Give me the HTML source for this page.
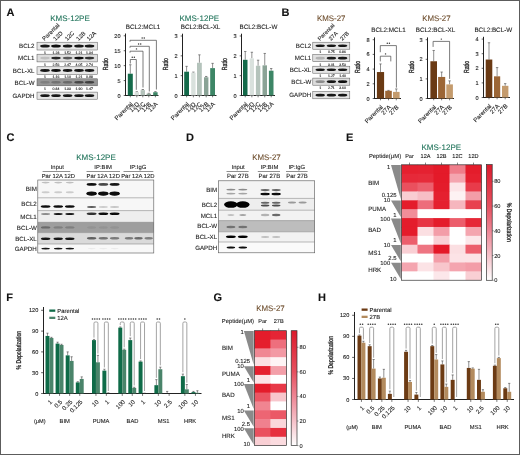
<!DOCTYPE html>
<html><head><meta charset="utf-8"><style>
html,body{margin:0;padding:0;background:#fff;}
svg{display:block;filter:blur(0.3px);font-family:"Liberation Sans", sans-serif;}
text{paint-order:stroke;text-rendering:geometricPrecision;}
</style></head><body>
<svg width="520" height="455" viewBox="0 0 520 455">
<defs>
<filter id="bl" x="-50%" y="-100%" width="200%" height="300%"><feGaussianBlur stdDeviation="0.55"/></filter>
<linearGradient id="cb" x1="0" y1="0" x2="0" y2="1">
<stop offset="0" stop-color="#dc1a2c"/><stop offset="0.36" stop-color="#e6505f"/><stop offset="0.57" stop-color="#ee8594"/><stop offset="0.79" stop-color="#f6c2ca"/><stop offset="1" stop-color="#ffffff"/>
</linearGradient>
</defs>
<rect x="0" y="0" width="520" height="455" fill="#fff"/>
<rect x="0.50" y="0.50" width="519.00" height="454.00" fill="none" stroke="#5c5c5c" stroke-width="1.0"/>
<text x="6.5" y="15.8" font-size="11.0" text-anchor="start" fill="#111" stroke="#111" stroke-width="0.1" font-weight="bold">A</text>
<text x="281.5" y="16.1" font-size="11.0" text-anchor="start" fill="#111" stroke="#111" stroke-width="0.1" font-weight="bold">B</text>
<text x="6.4" y="141.0" font-size="11.0" text-anchor="start" fill="#111" stroke="#111" stroke-width="0.1" font-weight="bold">C</text>
<text x="186.1" y="141.0" font-size="11.0" text-anchor="start" fill="#111" stroke="#111" stroke-width="0.1" font-weight="bold">D</text>
<text x="346.1" y="141.0" font-size="11.0" text-anchor="start" fill="#111" stroke="#111" stroke-width="0.1" font-weight="bold">E</text>
<text x="6.2" y="301.2" font-size="11.0" text-anchor="start" fill="#111" stroke="#111" stroke-width="0.1" font-weight="bold">F</text>
<text x="213.4" y="301.2" font-size="11.0" text-anchor="start" fill="#111" stroke="#111" stroke-width="0.1" font-weight="bold">G</text>
<text x="318.1" y="301.2" font-size="11.0" text-anchor="start" fill="#111" stroke="#111" stroke-width="0.1" font-weight="bold">H</text>
<text x="70" y="20.6" font-size="8.0" text-anchor="middle" fill="#20735a" stroke="#20735a" stroke-width="0.1">KMS-12PE</text>
<text x="44.6" y="41.0" font-size="5.8" text-anchor="start" fill="#222" stroke="#222" stroke-width="0.1" transform="rotate(-45 44.6 41.0)">Parental</text>
<text x="55.6" y="41.0" font-size="5.8" text-anchor="start" fill="#222" stroke="#222" stroke-width="0.1" transform="rotate(-45 55.6 41.0)">12D</text>
<text x="67.19999999999999" y="41.0" font-size="5.8" text-anchor="start" fill="#222" stroke="#222" stroke-width="0.1" transform="rotate(-45 67.19999999999999 41.0)">12C</text>
<text x="78.6" y="41.0" font-size="5.8" text-anchor="start" fill="#222" stroke="#222" stroke-width="0.1" transform="rotate(-45 78.6 41.0)">12B</text>
<text x="89.1" y="41.0" font-size="5.8" text-anchor="start" fill="#222" stroke="#222" stroke-width="0.1" transform="rotate(-45 89.1 41.0)">12A</text>
<rect x="37.00" y="42.20" width="60.50" height="7.80" fill="#e6e6e6" stroke="#555" stroke-width="0.5"/>
<ellipse cx="45.00" cy="46.10" rx="4.80" ry="1.50" fill="rgb(20,20,20)" filter="url(#bl)"/>
<ellipse cx="56.00" cy="46.10" rx="4.80" ry="1.50" fill="rgb(12,12,12)" filter="url(#bl)"/>
<ellipse cx="67.60" cy="46.10" rx="4.80" ry="1.50" fill="rgb(20,20,20)" filter="url(#bl)"/>
<ellipse cx="79.00" cy="46.10" rx="4.80" ry="1.50" fill="rgb(25,25,25)" filter="url(#bl)"/>
<ellipse cx="89.50" cy="46.10" rx="4.80" ry="1.50" fill="rgb(20,20,20)" filter="url(#bl)"/>
<text x="34.5" y="48.300000000000004" font-size="6.2" text-anchor="end" fill="#222" stroke="#222" stroke-width="0.1">BCL2</text>
<text x="45" y="53.9" font-size="3.5" text-anchor="middle" fill="#111" stroke="#111" stroke-width="0.1">1</text>
<text x="56" y="53.9" font-size="3.5" text-anchor="middle" fill="#111" stroke="#111" stroke-width="0.1">1.28</text>
<text x="67.6" y="53.9" font-size="3.5" text-anchor="middle" fill="#111" stroke="#111" stroke-width="0.1">1.52</text>
<text x="79" y="53.9" font-size="3.5" text-anchor="middle" fill="#111" stroke="#111" stroke-width="0.1">1.21</text>
<text x="89.5" y="53.9" font-size="3.5" text-anchor="middle" fill="#111" stroke="#111" stroke-width="0.1">1.34</text>
<rect x="37.00" y="54.20" width="60.50" height="7.70" fill="#dedede" stroke="#555" stroke-width="0.5"/>
<ellipse cx="45.00" cy="58.05" rx="4.80" ry="1.40" fill="rgb(191,191,191)" filter="url(#bl)"/>
<ellipse cx="56.00" cy="58.05" rx="4.80" ry="1.40" fill="rgb(38,38,38)" filter="url(#bl)"/>
<ellipse cx="67.60" cy="58.05" rx="4.80" ry="1.40" fill="rgb(89,89,89)" filter="url(#bl)"/>
<ellipse cx="79.00" cy="58.05" rx="4.80" ry="1.40" fill="rgb(12,12,12)" filter="url(#bl)"/>
<ellipse cx="89.50" cy="58.05" rx="4.80" ry="1.40" fill="rgb(50,50,50)" filter="url(#bl)"/>
<text x="34.5" y="60.25" font-size="6.2" text-anchor="end" fill="#222" stroke="#222" stroke-width="0.1">MCL1</text>
<text x="45" y="65.8" font-size="3.5" text-anchor="middle" fill="#111" stroke="#111" stroke-width="0.1">1</text>
<text x="56" y="65.8" font-size="3.5" text-anchor="middle" fill="#111" stroke="#111" stroke-width="0.1">2.56</text>
<text x="67.6" y="65.8" font-size="3.5" text-anchor="middle" fill="#111" stroke="#111" stroke-width="0.1">2.47</text>
<text x="79" y="65.8" font-size="3.5" text-anchor="middle" fill="#111" stroke="#111" stroke-width="0.1">4.05</text>
<text x="89.5" y="65.8" font-size="3.5" text-anchor="middle" fill="#111" stroke="#111" stroke-width="0.1">2.74</text>
<rect x="37.00" y="66.80" width="60.50" height="7.50" fill="#e6e6e6" stroke="#555" stroke-width="0.5"/>
<ellipse cx="45.00" cy="70.55" rx="4.80" ry="1.45" fill="rgb(20,20,20)" filter="url(#bl)"/>
<ellipse cx="56.00" cy="70.55" rx="4.80" ry="1.45" fill="rgb(12,12,12)" filter="url(#bl)"/>
<ellipse cx="67.60" cy="70.55" rx="4.80" ry="1.45" fill="rgb(25,25,25)" filter="url(#bl)"/>
<ellipse cx="79.00" cy="70.55" rx="4.80" ry="1.45" fill="rgb(20,20,20)" filter="url(#bl)"/>
<ellipse cx="89.50" cy="70.55" rx="4.80" ry="1.45" fill="rgb(25,25,25)" filter="url(#bl)"/>
<text x="34.5" y="72.75" font-size="6.2" text-anchor="end" fill="#222" stroke="#222" stroke-width="0.1">BCL-XL</text>
<text x="45" y="78.2" font-size="3.5" text-anchor="middle" fill="#111" stroke="#111" stroke-width="0.1">1</text>
<text x="56" y="78.2" font-size="3.5" text-anchor="middle" fill="#111" stroke="#111" stroke-width="0.1">1.16</text>
<text x="67.6" y="78.2" font-size="3.5" text-anchor="middle" fill="#111" stroke="#111" stroke-width="0.1">1.10</text>
<text x="79" y="78.2" font-size="3.5" text-anchor="middle" fill="#111" stroke="#111" stroke-width="0.1">1.21</text>
<text x="89.5" y="78.2" font-size="3.5" text-anchor="middle" fill="#111" stroke="#111" stroke-width="0.1">0.98</text>
<rect x="37.00" y="78.80" width="60.50" height="7.00" fill="#969696" stroke="#555" stroke-width="0.5"/>
<ellipse cx="45.00" cy="82.30" rx="4.80" ry="1.20" fill="rgb(127,127,127)" filter="url(#bl)"/>
<ellipse cx="56.00" cy="82.30" rx="4.80" ry="1.20" fill="rgb(114,114,114)" filter="url(#bl)"/>
<ellipse cx="67.60" cy="82.30" rx="4.80" ry="1.20" fill="rgb(107,107,107)" filter="url(#bl)"/>
<ellipse cx="79.00" cy="82.30" rx="4.80" ry="1.20" fill="rgb(71,71,71)" filter="url(#bl)"/>
<ellipse cx="89.50" cy="82.30" rx="4.80" ry="1.20" fill="rgb(63,63,63)" filter="url(#bl)"/>
<text x="34.5" y="84.5" font-size="6.2" text-anchor="end" fill="#222" stroke="#222" stroke-width="0.1">BCL-W</text>
<text x="45" y="89.7" font-size="3.5" text-anchor="middle" fill="#111" stroke="#111" stroke-width="0.1">1</text>
<text x="56" y="89.7" font-size="3.5" text-anchor="middle" fill="#111" stroke="#111" stroke-width="0.1">0.84</text>
<text x="67.6" y="89.7" font-size="3.5" text-anchor="middle" fill="#111" stroke="#111" stroke-width="0.1">1.33</text>
<text x="79" y="89.7" font-size="3.5" text-anchor="middle" fill="#111" stroke="#111" stroke-width="0.1">1.90</text>
<text x="89.5" y="89.7" font-size="3.5" text-anchor="middle" fill="#111" stroke="#111" stroke-width="0.1">1.47</text>
<rect x="37.00" y="92.10" width="60.50" height="7.10" fill="#e6e6e6" stroke="#555" stroke-width="0.5"/>
<ellipse cx="45.00" cy="95.65" rx="4.80" ry="1.40" fill="rgb(20,20,20)" filter="url(#bl)"/>
<ellipse cx="56.00" cy="95.65" rx="4.80" ry="1.40" fill="rgb(20,20,20)" filter="url(#bl)"/>
<ellipse cx="67.60" cy="95.65" rx="4.80" ry="1.40" fill="rgb(20,20,20)" filter="url(#bl)"/>
<ellipse cx="79.00" cy="95.65" rx="4.80" ry="1.40" fill="rgb(20,20,20)" filter="url(#bl)"/>
<ellipse cx="89.50" cy="95.65" rx="4.80" ry="1.40" fill="rgb(20,20,20)" filter="url(#bl)"/>
<text x="34.5" y="97.85000000000001" font-size="6.2" text-anchor="end" fill="#222" stroke="#222" stroke-width="0.1">GAPDH</text>
<line x1="125.50" y1="96.00" x2="125.50" y2="33.50" stroke="#222" stroke-width="1.0"/>
<line x1="125.00" y1="95.50" x2="158.50" y2="95.50" stroke="#222" stroke-width="1.0"/>
<line x1="123.70" y1="95.50" x2="125.50" y2="95.50" stroke="#222" stroke-width="0.7"/>
<text x="120.5" y="97.5" font-size="5.6" text-anchor="end" fill="#222" stroke="#222" stroke-width="0.1">0</text>
<line x1="123.70" y1="80.58" x2="125.50" y2="80.58" stroke="#222" stroke-width="0.7"/>
<text x="120.5" y="82.575" font-size="5.6" text-anchor="end" fill="#222" stroke="#222" stroke-width="0.1">5</text>
<line x1="123.70" y1="65.65" x2="125.50" y2="65.65" stroke="#222" stroke-width="0.7"/>
<text x="120.5" y="67.65" font-size="5.6" text-anchor="end" fill="#222" stroke="#222" stroke-width="0.1">10</text>
<line x1="123.70" y1="50.72" x2="125.50" y2="50.72" stroke="#222" stroke-width="0.7"/>
<text x="120.5" y="52.724999999999994" font-size="5.6" text-anchor="end" fill="#222" stroke="#222" stroke-width="0.1">15</text>
<line x1="123.70" y1="35.80" x2="125.50" y2="35.80" stroke="#222" stroke-width="0.7"/>
<text x="120.5" y="37.8" font-size="5.6" text-anchor="end" fill="#222" stroke="#222" stroke-width="0.1">20</text>
<text x="143" y="29" font-size="6.3" text-anchor="middle" fill="#222" stroke="#222" stroke-width="0.1">BCL2:MCL1</text>
<text transform="translate(108 64.2) rotate(-90) scale(0.7 1)" font-size="7.4" text-anchor="middle" fill="#222" stroke="#222" stroke-width="0.3">Ratio</text>
<line x1="130.30" y1="73.71" x2="130.30" y2="64.75" stroke="#444" stroke-width="0.6"/>
<line x1="129.10" y1="64.75" x2="131.50" y2="64.75" stroke="#444" stroke-width="0.6"/>
<rect x="127.80" y="73.71" width="5.00" height="21.79" fill="#146a4a"/>
<line x1="136.80" y1="92.22" x2="136.80" y2="91.77" stroke="#444" stroke-width="0.6"/>
<line x1="135.60" y1="91.77" x2="138.00" y2="91.77" stroke="#444" stroke-width="0.6"/>
<rect x="134.60" y="92.22" width="4.40" height="3.28" fill="#d9e1dd"/>
<line x1="142.80" y1="90.13" x2="142.80" y2="89.53" stroke="#444" stroke-width="0.6"/>
<line x1="141.60" y1="89.53" x2="144.00" y2="89.53" stroke="#444" stroke-width="0.6"/>
<rect x="140.60" y="90.13" width="4.40" height="5.37" fill="#b4c3bb"/>
<line x1="148.80" y1="93.71" x2="148.80" y2="93.26" stroke="#444" stroke-width="0.6"/>
<line x1="147.60" y1="93.26" x2="150.00" y2="93.26" stroke="#444" stroke-width="0.6"/>
<rect x="146.60" y="93.71" width="4.40" height="1.79" fill="#8aa396"/>
<line x1="155.40" y1="92.22" x2="155.40" y2="91.62" stroke="#444" stroke-width="0.6"/>
<line x1="154.20" y1="91.62" x2="156.60" y2="91.62" stroke="#444" stroke-width="0.6"/>
<rect x="153.20" y="92.22" width="4.40" height="3.28" fill="#3d8666"/>
<line x1="130.30" y1="95.50" x2="130.30" y2="97.30" stroke="#222" stroke-width="0.6"/>
<text x="133.10000000000002" y="104.5" font-size="6.1" text-anchor="end" fill="#222" stroke="#222" stroke-width="0.1" transform="rotate(-45 133.10000000000002 104.5)">Parental</text>
<line x1="136.80" y1="95.50" x2="136.80" y2="97.30" stroke="#222" stroke-width="0.6"/>
<text x="139.60000000000002" y="104.5" font-size="6.1" text-anchor="end" fill="#222" stroke="#222" stroke-width="0.1" transform="rotate(-45 139.60000000000002 104.5)">12D</text>
<line x1="142.80" y1="95.50" x2="142.80" y2="97.30" stroke="#222" stroke-width="0.6"/>
<text x="145.60000000000002" y="104.5" font-size="6.1" text-anchor="end" fill="#222" stroke="#222" stroke-width="0.1" transform="rotate(-45 145.60000000000002 104.5)">12C</text>
<line x1="148.80" y1="95.50" x2="148.80" y2="97.30" stroke="#222" stroke-width="0.6"/>
<text x="151.60000000000002" y="104.5" font-size="6.1" text-anchor="end" fill="#222" stroke="#222" stroke-width="0.1" transform="rotate(-45 151.60000000000002 104.5)">12B</text>
<line x1="155.40" y1="95.50" x2="155.40" y2="97.30" stroke="#222" stroke-width="0.6"/>
<text x="158.2" y="104.5" font-size="6.1" text-anchor="end" fill="#222" stroke="#222" stroke-width="0.1" transform="rotate(-45 158.2 104.5)">12A</text>
<path d="M130.00,41.80 L130.00,40.30 L156.40,40.30 L156.40,89.50" stroke="#444" stroke-width="0.7" fill="none"/>
<circle cx="142.15" cy="38.00" r="0.72" fill="#333"/>
<circle cx="144.25" cy="38.00" r="0.72" fill="#333"/>
<path d="M130.00,47.80 L130.00,46.30 L149.30,46.30 L149.30,91.50" stroke="#444" stroke-width="0.7" fill="none"/>
<circle cx="138.60" cy="44.00" r="0.72" fill="#333"/>
<circle cx="140.70" cy="44.00" r="0.72" fill="#333"/>
<path d="M130.00,52.70 L130.00,51.20 L143.00,51.20 L143.00,87.50" stroke="#444" stroke-width="0.7" fill="none"/>
<circle cx="136.50" cy="48.90" r="0.72" fill="#333"/>
<path d="M130.30,63.50 L130.30,59.50 L136.30,59.50 L136.30,89.80" stroke="#444" stroke-width="0.7" fill="none"/>
<circle cx="132.25" cy="57.20" r="0.72" fill="#333"/>
<circle cx="134.35" cy="57.20" r="0.72" fill="#333"/>
<text x="199.3" y="20.9" font-size="8.0" text-anchor="middle" fill="#20735a" stroke="#20735a" stroke-width="0.1">KMS-12PE</text>
<line x1="182.50" y1="96.00" x2="182.50" y2="33.70" stroke="#222" stroke-width="1.0"/>
<line x1="182.00" y1="95.50" x2="216.50" y2="95.50" stroke="#222" stroke-width="1.0"/>
<line x1="180.70" y1="95.50" x2="182.50" y2="95.50" stroke="#222" stroke-width="0.7"/>
<text x="177.5" y="97.5" font-size="5.6" text-anchor="end" fill="#222" stroke="#222" stroke-width="0.1">0</text>
<line x1="180.70" y1="75.67" x2="182.50" y2="75.67" stroke="#222" stroke-width="0.7"/>
<text x="177.5" y="77.66666666666667" font-size="5.6" text-anchor="end" fill="#222" stroke="#222" stroke-width="0.1">1</text>
<line x1="180.70" y1="55.83" x2="182.50" y2="55.83" stroke="#222" stroke-width="0.7"/>
<text x="177.5" y="57.833333333333336" font-size="5.6" text-anchor="end" fill="#222" stroke="#222" stroke-width="0.1">2</text>
<line x1="180.70" y1="36.00" x2="182.50" y2="36.00" stroke="#222" stroke-width="0.7"/>
<text x="177.5" y="38.0" font-size="5.6" text-anchor="end" fill="#222" stroke="#222" stroke-width="0.1">3</text>
<text x="200.6" y="29.2" font-size="6.3" text-anchor="middle" fill="#222" stroke="#222" stroke-width="0.1">BCL2:BCL-XL</text>
<text transform="translate(168 64.2) rotate(-90) scale(0.7 1)" font-size="7.4" text-anchor="middle" fill="#222" stroke="#222" stroke-width="0.3">Ratio</text>
<line x1="186.60" y1="71.70" x2="186.60" y2="66.34" stroke="#444" stroke-width="0.6"/>
<line x1="185.40" y1="66.34" x2="187.80" y2="66.34" stroke="#444" stroke-width="0.6"/>
<rect x="184.20" y="71.70" width="4.80" height="23.80" fill="#146a4a"/>
<line x1="193.40" y1="72.69" x2="193.40" y2="72.10" stroke="#444" stroke-width="0.6"/>
<line x1="192.20" y1="72.10" x2="194.60" y2="72.10" stroke="#444" stroke-width="0.6"/>
<rect x="191.20" y="72.69" width="4.40" height="22.81" fill="#d9e1dd"/>
<line x1="199.40" y1="62.78" x2="199.40" y2="54.84" stroke="#444" stroke-width="0.6"/>
<line x1="198.20" y1="54.84" x2="200.60" y2="54.84" stroke="#444" stroke-width="0.6"/>
<rect x="197.00" y="62.78" width="4.80" height="32.72" fill="#b4c3bb"/>
<line x1="206.20" y1="77.25" x2="206.20" y2="76.46" stroke="#444" stroke-width="0.6"/>
<line x1="205.00" y1="76.46" x2="207.40" y2="76.46" stroke="#444" stroke-width="0.6"/>
<rect x="204.00" y="77.25" width="4.40" height="18.25" fill="#8aa396"/>
<line x1="212.60" y1="68.13" x2="212.60" y2="63.37" stroke="#444" stroke-width="0.6"/>
<line x1="211.40" y1="63.37" x2="213.80" y2="63.37" stroke="#444" stroke-width="0.6"/>
<rect x="210.20" y="68.13" width="4.80" height="27.37" fill="#3d8666"/>
<line x1="186.60" y1="95.50" x2="186.60" y2="97.30" stroke="#222" stroke-width="0.6"/>
<text x="189.4" y="104.5" font-size="6.1" text-anchor="end" fill="#222" stroke="#222" stroke-width="0.1" transform="rotate(-45 189.4 104.5)">Parental</text>
<line x1="193.40" y1="95.50" x2="193.40" y2="97.30" stroke="#222" stroke-width="0.6"/>
<text x="196.2" y="104.5" font-size="6.1" text-anchor="end" fill="#222" stroke="#222" stroke-width="0.1" transform="rotate(-45 196.2 104.5)">12D</text>
<line x1="199.40" y1="95.50" x2="199.40" y2="97.30" stroke="#222" stroke-width="0.6"/>
<text x="202.20000000000002" y="104.5" font-size="6.1" text-anchor="end" fill="#222" stroke="#222" stroke-width="0.1" transform="rotate(-45 202.20000000000002 104.5)">12C</text>
<line x1="206.20" y1="95.50" x2="206.20" y2="97.30" stroke="#222" stroke-width="0.6"/>
<text x="209.0" y="104.5" font-size="6.1" text-anchor="end" fill="#222" stroke="#222" stroke-width="0.1" transform="rotate(-45 209.0 104.5)">12B</text>
<line x1="212.60" y1="95.50" x2="212.60" y2="97.30" stroke="#222" stroke-width="0.6"/>
<text x="215.4" y="104.5" font-size="6.1" text-anchor="end" fill="#222" stroke="#222" stroke-width="0.1" transform="rotate(-45 215.4 104.5)">12A</text>
<line x1="241.50" y1="96.00" x2="241.50" y2="33.70" stroke="#222" stroke-width="1.0"/>
<line x1="241.00" y1="95.50" x2="275.00" y2="95.50" stroke="#222" stroke-width="1.0"/>
<line x1="239.70" y1="95.50" x2="241.50" y2="95.50" stroke="#222" stroke-width="0.7"/>
<text x="236.5" y="97.5" font-size="5.6" text-anchor="end" fill="#222" stroke="#222" stroke-width="0.1">0</text>
<line x1="239.70" y1="75.67" x2="241.50" y2="75.67" stroke="#222" stroke-width="0.7"/>
<text x="236.5" y="77.66666666666667" font-size="5.6" text-anchor="end" fill="#222" stroke="#222" stroke-width="0.1">1</text>
<line x1="239.70" y1="55.83" x2="241.50" y2="55.83" stroke="#222" stroke-width="0.7"/>
<text x="236.5" y="57.833333333333336" font-size="5.6" text-anchor="end" fill="#222" stroke="#222" stroke-width="0.1">2</text>
<line x1="239.70" y1="36.00" x2="241.50" y2="36.00" stroke="#222" stroke-width="0.7"/>
<text x="236.5" y="38.0" font-size="5.6" text-anchor="end" fill="#222" stroke="#222" stroke-width="0.1">3</text>
<text x="258.5" y="29.2" font-size="6.3" text-anchor="middle" fill="#222" stroke="#222" stroke-width="0.1">BCL2:BCL-W</text>
<text transform="translate(226.6 64.2) rotate(-90) scale(0.7 1)" font-size="7.4" text-anchor="middle" fill="#222" stroke="#222" stroke-width="0.3">Ratio</text>
<line x1="245.25" y1="59.80" x2="245.25" y2="51.47" stroke="#444" stroke-width="0.6"/>
<line x1="244.05" y1="51.47" x2="246.45" y2="51.47" stroke="#444" stroke-width="0.6"/>
<rect x="243.00" y="59.80" width="4.50" height="35.70" fill="#146a4a"/>
<line x1="251.85" y1="58.41" x2="251.85" y2="52.26" stroke="#444" stroke-width="0.6"/>
<line x1="250.65" y1="52.26" x2="253.05" y2="52.26" stroke="#444" stroke-width="0.6"/>
<rect x="249.70" y="58.41" width="4.30" height="37.09" fill="#d9e1dd"/>
<line x1="258.10" y1="65.75" x2="258.10" y2="60.20" stroke="#444" stroke-width="0.6"/>
<line x1="256.90" y1="60.20" x2="259.30" y2="60.20" stroke="#444" stroke-width="0.6"/>
<rect x="255.90" y="65.75" width="4.40" height="29.75" fill="#b4c3bb"/>
<line x1="264.75" y1="65.35" x2="264.75" y2="53.45" stroke="#444" stroke-width="0.6"/>
<line x1="263.55" y1="53.45" x2="265.95" y2="53.45" stroke="#444" stroke-width="0.6"/>
<rect x="262.50" y="65.35" width="4.50" height="30.15" fill="#8aa396"/>
<line x1="271.20" y1="70.71" x2="271.20" y2="68.53" stroke="#444" stroke-width="0.6"/>
<line x1="270.00" y1="68.53" x2="272.40" y2="68.53" stroke="#444" stroke-width="0.6"/>
<rect x="268.90" y="70.71" width="4.60" height="24.79" fill="#3d8666"/>
<line x1="245.25" y1="95.50" x2="245.25" y2="97.30" stroke="#222" stroke-width="0.6"/>
<text x="248.05" y="104.5" font-size="6.1" text-anchor="end" fill="#222" stroke="#222" stroke-width="0.1" transform="rotate(-45 248.05 104.5)">Parental</text>
<line x1="251.85" y1="95.50" x2="251.85" y2="97.30" stroke="#222" stroke-width="0.6"/>
<text x="254.65" y="104.5" font-size="6.1" text-anchor="end" fill="#222" stroke="#222" stroke-width="0.1" transform="rotate(-45 254.65 104.5)">12D</text>
<line x1="258.10" y1="95.50" x2="258.10" y2="97.30" stroke="#222" stroke-width="0.6"/>
<text x="260.90000000000003" y="104.5" font-size="6.1" text-anchor="end" fill="#222" stroke="#222" stroke-width="0.1" transform="rotate(-45 260.90000000000003 104.5)">12C</text>
<line x1="264.75" y1="95.50" x2="264.75" y2="97.30" stroke="#222" stroke-width="0.6"/>
<text x="267.55" y="104.5" font-size="6.1" text-anchor="end" fill="#222" stroke="#222" stroke-width="0.1" transform="rotate(-45 267.55 104.5)">12B</text>
<line x1="271.20" y1="95.50" x2="271.20" y2="97.30" stroke="#222" stroke-width="0.6"/>
<text x="274.0" y="104.5" font-size="6.1" text-anchor="end" fill="#222" stroke="#222" stroke-width="0.1" transform="rotate(-45 274.0 104.5)">12A</text>
<text x="331.2" y="20.5" font-size="7.9" text-anchor="middle" fill="#6e4e2e" stroke="#6e4e2e" stroke-width="0.1">KMS-27</text>
<text x="319.9" y="40.9" font-size="5.7" text-anchor="start" fill="#222" stroke="#222" stroke-width="0.1" transform="rotate(-45 319.9 40.9)">Parental</text>
<text x="331.09999999999997" y="40.9" font-size="5.7" text-anchor="start" fill="#222" stroke="#222" stroke-width="0.1" transform="rotate(-45 331.09999999999997 40.9)">27A</text>
<text x="342.3" y="40.9" font-size="5.7" text-anchor="start" fill="#222" stroke="#222" stroke-width="0.1" transform="rotate(-45 342.3 40.9)">27B</text>
<rect x="312.80" y="42.20" width="37.00" height="7.00" fill="#e4e4e4" stroke="#555" stroke-width="0.5"/>
<ellipse cx="320.20" cy="45.70" rx="4.70" ry="1.30" fill="rgb(20,20,20)" filter="url(#bl)"/>
<ellipse cx="331.40" cy="45.70" rx="4.70" ry="1.30" fill="rgb(25,25,25)" filter="url(#bl)"/>
<ellipse cx="342.60" cy="45.70" rx="4.70" ry="1.30" fill="rgb(25,25,25)" filter="url(#bl)"/>
<text x="311.3" y="47.900000000000006" font-size="6.2" text-anchor="end" fill="#222" stroke="#222" stroke-width="0.1">BCL2</text>
<text x="320.2" y="53.1" font-size="3.5" text-anchor="middle" fill="#111" stroke="#111" stroke-width="0.1">1</text>
<text x="331.4" y="53.1" font-size="3.5" text-anchor="middle" fill="#111" stroke="#111" stroke-width="0.1">0.75</text>
<text x="342.6" y="53.1" font-size="3.5" text-anchor="middle" fill="#111" stroke="#111" stroke-width="0.1">0.86</text>
<rect x="312.80" y="54.60" width="37.00" height="7.10" fill="#e0e0e0" stroke="#555" stroke-width="0.5"/>
<ellipse cx="320.20" cy="58.15" rx="4.70" ry="1.35" fill="rgb(178,178,178)" filter="url(#bl)"/>
<ellipse cx="331.40" cy="58.15" rx="4.70" ry="1.35" fill="rgb(30,30,30)" filter="url(#bl)"/>
<ellipse cx="342.60" cy="58.15" rx="4.70" ry="1.35" fill="rgb(20,20,20)" filter="url(#bl)"/>
<text x="311.3" y="60.35000000000001" font-size="6.2" text-anchor="end" fill="#222" stroke="#222" stroke-width="0.1">MCL1</text>
<text x="320.2" y="65.60000000000001" font-size="3.5" text-anchor="middle" fill="#111" stroke="#111" stroke-width="0.1">1</text>
<text x="331.4" y="65.60000000000001" font-size="3.5" text-anchor="middle" fill="#111" stroke="#111" stroke-width="0.1">3.01</text>
<text x="342.6" y="65.60000000000001" font-size="3.5" text-anchor="middle" fill="#111" stroke="#111" stroke-width="0.1">3.53</text>
<rect x="312.80" y="66.20" width="37.00" height="7.00" fill="#e4e4e4" stroke="#555" stroke-width="0.5"/>
<ellipse cx="320.20" cy="69.70" rx="4.70" ry="1.30" fill="rgb(20,20,20)" filter="url(#bl)"/>
<ellipse cx="331.40" cy="69.70" rx="4.70" ry="1.30" fill="rgb(25,25,25)" filter="url(#bl)"/>
<ellipse cx="342.60" cy="69.70" rx="4.70" ry="1.30" fill="rgb(20,20,20)" filter="url(#bl)"/>
<text x="311.3" y="71.9" font-size="6.2" text-anchor="end" fill="#222" stroke="#222" stroke-width="0.1">BCL-XL</text>
<text x="320.2" y="77.10000000000001" font-size="3.5" text-anchor="middle" fill="#111" stroke="#111" stroke-width="0.1">1</text>
<text x="331.4" y="77.10000000000001" font-size="3.5" text-anchor="middle" fill="#111" stroke="#111" stroke-width="0.1">1.27</text>
<text x="342.6" y="77.10000000000001" font-size="3.5" text-anchor="middle" fill="#111" stroke="#111" stroke-width="0.1">1.40</text>
<rect x="312.80" y="78.10" width="37.00" height="7.10" fill="#dcdcdc" stroke="#555" stroke-width="0.5"/>
<ellipse cx="320.20" cy="81.65" rx="4.70" ry="1.40" fill="rgb(140,140,140)" filter="url(#bl)"/>
<ellipse cx="331.40" cy="81.65" rx="4.70" ry="1.40" fill="rgb(25,25,25)" filter="url(#bl)"/>
<ellipse cx="342.60" cy="81.65" rx="4.70" ry="1.40" fill="rgb(12,12,12)" filter="url(#bl)"/>
<text x="311.3" y="83.85000000000001" font-size="6.2" text-anchor="end" fill="#222" stroke="#222" stroke-width="0.1">BCL-W</text>
<text x="320.2" y="89.10000000000001" font-size="3.5" text-anchor="middle" fill="#111" stroke="#111" stroke-width="0.1">1</text>
<text x="331.4" y="89.10000000000001" font-size="3.5" text-anchor="middle" fill="#111" stroke="#111" stroke-width="0.1">2.71</text>
<text x="342.6" y="89.10000000000001" font-size="3.5" text-anchor="middle" fill="#111" stroke="#111" stroke-width="0.1">3.60</text>
<rect x="312.80" y="91.50" width="37.00" height="7.30" fill="#e4e4e4" stroke="#555" stroke-width="0.5"/>
<ellipse cx="320.20" cy="95.15" rx="4.70" ry="1.30" fill="rgb(20,20,20)" filter="url(#bl)"/>
<ellipse cx="331.40" cy="95.15" rx="4.70" ry="1.30" fill="rgb(20,20,20)" filter="url(#bl)"/>
<ellipse cx="342.60" cy="95.15" rx="4.70" ry="1.30" fill="rgb(20,20,20)" filter="url(#bl)"/>
<text x="311.3" y="97.35000000000001" font-size="6.2" text-anchor="end" fill="#222" stroke="#222" stroke-width="0.1">GAPDH</text>
<line x1="374.50" y1="99.00" x2="374.50" y2="37.40" stroke="#222" stroke-width="1.0"/>
<line x1="374.00" y1="98.50" x2="401.00" y2="98.50" stroke="#222" stroke-width="1.0"/>
<line x1="372.70" y1="98.50" x2="374.50" y2="98.50" stroke="#222" stroke-width="0.7"/>
<text x="369.5" y="100.5" font-size="5.6" text-anchor="end" fill="#222" stroke="#222" stroke-width="0.1">0</text>
<line x1="372.70" y1="83.80" x2="374.50" y2="83.80" stroke="#222" stroke-width="0.7"/>
<text x="369.5" y="85.8" font-size="5.6" text-anchor="end" fill="#222" stroke="#222" stroke-width="0.1">2</text>
<line x1="372.70" y1="69.10" x2="374.50" y2="69.10" stroke="#222" stroke-width="0.7"/>
<text x="369.5" y="71.1" font-size="5.6" text-anchor="end" fill="#222" stroke="#222" stroke-width="0.1">4</text>
<line x1="372.70" y1="54.40" x2="374.50" y2="54.40" stroke="#222" stroke-width="0.7"/>
<text x="369.5" y="56.400000000000006" font-size="5.6" text-anchor="end" fill="#222" stroke="#222" stroke-width="0.1">6</text>
<line x1="372.70" y1="39.70" x2="374.50" y2="39.70" stroke="#222" stroke-width="0.7"/>
<text x="369.5" y="41.7" font-size="5.6" text-anchor="end" fill="#222" stroke="#222" stroke-width="0.1">8</text>
<text x="388.5" y="32" font-size="6.3" text-anchor="middle" fill="#222" stroke="#222" stroke-width="0.1">BCL2:MCL1</text>
<text transform="translate(359.5 67) rotate(-90) scale(0.7 1)" font-size="7.4" text-anchor="middle" fill="#222" stroke="#222" stroke-width="0.3">Ratio</text>
<line x1="380.50" y1="72.04" x2="380.50" y2="63.95" stroke="#444" stroke-width="0.6"/>
<line x1="379.30" y1="63.95" x2="381.70" y2="63.95" stroke="#444" stroke-width="0.6"/>
<rect x="376.90" y="72.04" width="7.20" height="26.46" fill="#6a3a14"/>
<line x1="388.50" y1="90.78" x2="388.50" y2="90.41" stroke="#444" stroke-width="0.6"/>
<line x1="387.30" y1="90.41" x2="389.70" y2="90.41" stroke="#444" stroke-width="0.6"/>
<rect x="385.20" y="90.78" width="6.60" height="7.72" fill="#9c6636"/>
<line x1="396.30" y1="91.89" x2="396.30" y2="88.94" stroke="#444" stroke-width="0.6"/>
<line x1="395.10" y1="88.94" x2="397.50" y2="88.94" stroke="#444" stroke-width="0.6"/>
<rect x="393.00" y="91.89" width="6.60" height="6.61" fill="#c49b6d"/>
<line x1="380.50" y1="98.50" x2="380.50" y2="100.30" stroke="#222" stroke-width="0.6"/>
<text x="383.3" y="107.5" font-size="6.1" text-anchor="end" fill="#222" stroke="#222" stroke-width="0.1" transform="rotate(-45 383.3 107.5)">Parental</text>
<line x1="388.50" y1="98.50" x2="388.50" y2="100.30" stroke="#222" stroke-width="0.6"/>
<text x="391.3" y="107.5" font-size="6.1" text-anchor="end" fill="#222" stroke="#222" stroke-width="0.1" transform="rotate(-45 391.3 107.5)">27A</text>
<line x1="396.30" y1="98.50" x2="396.30" y2="100.30" stroke="#222" stroke-width="0.6"/>
<text x="399.1" y="107.5" font-size="6.1" text-anchor="end" fill="#222" stroke="#222" stroke-width="0.1" transform="rotate(-45 399.1 107.5)">27B</text>
<path d="M380.30,52.20 L380.30,45.60 L396.40,45.60 L396.40,87.60" stroke="#444" stroke-width="0.7" fill="none"/>
<circle cx="387.30" cy="43.30" r="0.72" fill="#333"/>
<circle cx="389.40" cy="43.30" r="0.72" fill="#333"/>
<path d="M380.30,61.40 L380.30,56.20 L390.80,56.20 L390.80,61.40" stroke="#444" stroke-width="0.7" fill="none"/>
<circle cx="385.55" cy="53.90" r="0.72" fill="#333"/>
<text x="436.4" y="21.2" font-size="7.9" text-anchor="middle" fill="#6e4e2e" stroke="#6e4e2e" stroke-width="0.1">KMS-27</text>
<line x1="427.50" y1="99.00" x2="427.50" y2="37.40" stroke="#222" stroke-width="1.0"/>
<line x1="427.00" y1="98.50" x2="454.00" y2="98.50" stroke="#222" stroke-width="1.0"/>
<line x1="425.70" y1="98.50" x2="427.50" y2="98.50" stroke="#222" stroke-width="0.7"/>
<text x="422.5" y="100.5" font-size="5.6" text-anchor="end" fill="#222" stroke="#222" stroke-width="0.1">0</text>
<line x1="425.70" y1="78.90" x2="427.50" y2="78.90" stroke="#222" stroke-width="0.7"/>
<text x="422.5" y="80.9" font-size="5.6" text-anchor="end" fill="#222" stroke="#222" stroke-width="0.1">1</text>
<line x1="425.70" y1="59.30" x2="427.50" y2="59.30" stroke="#222" stroke-width="0.7"/>
<text x="422.5" y="61.300000000000004" font-size="5.6" text-anchor="end" fill="#222" stroke="#222" stroke-width="0.1">2</text>
<line x1="425.70" y1="39.70" x2="427.50" y2="39.70" stroke="#222" stroke-width="0.7"/>
<text x="422.5" y="41.7" font-size="5.6" text-anchor="end" fill="#222" stroke="#222" stroke-width="0.1">3</text>
<text x="435.5" y="32" font-size="6.3" text-anchor="middle" fill="#222" stroke="#222" stroke-width="0.1">BCL2:BCL-XL</text>
<text transform="translate(414 67) rotate(-90) scale(0.7 1)" font-size="7.4" text-anchor="middle" fill="#222" stroke="#222" stroke-width="0.3">Ratio</text>
<line x1="433.70" y1="61.26" x2="433.70" y2="50.48" stroke="#444" stroke-width="0.6"/>
<line x1="432.50" y1="50.48" x2="434.90" y2="50.48" stroke="#444" stroke-width="0.6"/>
<rect x="430.40" y="61.26" width="6.60" height="37.24" fill="#6a3a14"/>
<line x1="441.65" y1="76.94" x2="441.65" y2="72.04" stroke="#444" stroke-width="0.6"/>
<line x1="440.45" y1="72.04" x2="442.85" y2="72.04" stroke="#444" stroke-width="0.6"/>
<rect x="438.10" y="76.94" width="7.10" height="21.56" fill="#9c6636"/>
<line x1="449.60" y1="84.39" x2="449.60" y2="80.86" stroke="#444" stroke-width="0.6"/>
<line x1="448.40" y1="80.86" x2="450.80" y2="80.86" stroke="#444" stroke-width="0.6"/>
<rect x="446.30" y="84.39" width="6.60" height="14.11" fill="#c49b6d"/>
<line x1="433.70" y1="98.50" x2="433.70" y2="100.30" stroke="#222" stroke-width="0.6"/>
<text x="436.5" y="107.5" font-size="6.1" text-anchor="end" fill="#222" stroke="#222" stroke-width="0.1" transform="rotate(-45 436.5 107.5)">Parental</text>
<line x1="441.65" y1="98.50" x2="441.65" y2="100.30" stroke="#222" stroke-width="0.6"/>
<text x="444.45" y="107.5" font-size="6.1" text-anchor="end" fill="#222" stroke="#222" stroke-width="0.1" transform="rotate(-45 444.45 107.5)">27A</text>
<line x1="449.60" y1="98.50" x2="449.60" y2="100.30" stroke="#222" stroke-width="0.6"/>
<text x="452.40000000000003" y="107.5" font-size="6.1" text-anchor="end" fill="#222" stroke="#222" stroke-width="0.1" transform="rotate(-45 452.40000000000003 107.5)">27B</text>
<path d="M433.10,46.90 L433.10,41.40 L449.60,41.40 L449.60,78.90" stroke="#444" stroke-width="0.7" fill="none"/>
<circle cx="441.35" cy="39.10" r="0.72" fill="#333"/>
<line x1="483.50" y1="98.00" x2="483.50" y2="36.80" stroke="#222" stroke-width="1.0"/>
<line x1="483.00" y1="97.50" x2="510.00" y2="97.50" stroke="#222" stroke-width="1.0"/>
<line x1="481.70" y1="97.50" x2="483.50" y2="97.50" stroke="#222" stroke-width="0.7"/>
<text x="478.5" y="99.5" font-size="5.6" text-anchor="end" fill="#222" stroke="#222" stroke-width="0.1">0</text>
<line x1="481.70" y1="82.90" x2="483.50" y2="82.90" stroke="#222" stroke-width="0.7"/>
<text x="478.5" y="84.9" font-size="5.6" text-anchor="end" fill="#222" stroke="#222" stroke-width="0.1">1</text>
<line x1="481.70" y1="68.30" x2="483.50" y2="68.30" stroke="#222" stroke-width="0.7"/>
<text x="478.5" y="70.3" font-size="5.6" text-anchor="end" fill="#222" stroke="#222" stroke-width="0.1">2</text>
<line x1="481.70" y1="53.70" x2="483.50" y2="53.70" stroke="#222" stroke-width="0.7"/>
<text x="478.5" y="55.7" font-size="5.6" text-anchor="end" fill="#222" stroke="#222" stroke-width="0.1">3</text>
<line x1="481.70" y1="39.10" x2="483.50" y2="39.10" stroke="#222" stroke-width="0.7"/>
<text x="478.5" y="41.1" font-size="5.6" text-anchor="end" fill="#222" stroke="#222" stroke-width="0.1">4</text>
<text x="493.3" y="32" font-size="6.3" text-anchor="middle" fill="#222" stroke="#222" stroke-width="0.1">BCL2:BCL-W</text>
<text transform="translate(469 67) rotate(-90) scale(0.7 1)" font-size="7.4" text-anchor="middle" fill="#222" stroke="#222" stroke-width="0.3">Ratio</text>
<line x1="489.00" y1="59.54" x2="489.00" y2="42.75" stroke="#444" stroke-width="0.6"/>
<line x1="487.80" y1="42.75" x2="490.20" y2="42.75" stroke="#444" stroke-width="0.6"/>
<rect x="485.70" y="59.54" width="6.60" height="37.96" fill="#6a3a14"/>
<line x1="497.10" y1="76.33" x2="497.10" y2="67.57" stroke="#444" stroke-width="0.6"/>
<line x1="495.90" y1="67.57" x2="498.30" y2="67.57" stroke="#444" stroke-width="0.6"/>
<rect x="494.00" y="76.33" width="6.20" height="21.17" fill="#9c6636"/>
<line x1="505.20" y1="85.82" x2="505.20" y2="83.63" stroke="#444" stroke-width="0.6"/>
<line x1="504.00" y1="83.63" x2="506.40" y2="83.63" stroke="#444" stroke-width="0.6"/>
<rect x="502.00" y="85.82" width="6.40" height="11.68" fill="#c49b6d"/>
<line x1="489.00" y1="97.50" x2="489.00" y2="99.30" stroke="#222" stroke-width="0.6"/>
<text x="491.8" y="106.5" font-size="6.1" text-anchor="end" fill="#222" stroke="#222" stroke-width="0.1" transform="rotate(-45 491.8 106.5)">Parental</text>
<line x1="497.10" y1="97.50" x2="497.10" y2="99.30" stroke="#222" stroke-width="0.6"/>
<text x="499.90000000000003" y="106.5" font-size="6.1" text-anchor="end" fill="#222" stroke="#222" stroke-width="0.1" transform="rotate(-45 499.90000000000003 106.5)">27A</text>
<line x1="505.20" y1="97.50" x2="505.20" y2="99.30" stroke="#222" stroke-width="0.6"/>
<text x="508.0" y="106.5" font-size="6.1" text-anchor="end" fill="#222" stroke="#222" stroke-width="0.1" transform="rotate(-45 508.0 106.5)">27B</text>
<text x="96" y="159.7" font-size="8.0" text-anchor="middle" fill="#20735a" stroke="#20735a" stroke-width="0.1">KMS-12PE</text>
<text x="57.3" y="168.8" font-size="5.9" text-anchor="middle" fill="#222" stroke="#222" stroke-width="0.1">Input</text>
<line x1="42.60" y1="171.50" x2="70.30" y2="171.50" stroke="#333" stroke-width="0.55"/>
<text x="58.4" y="178.1" font-size="5.9" text-anchor="middle" fill="#222" stroke="#222" stroke-width="0.1">Par 12A 12D</text>
<text x="103.2" y="168.8" font-size="5.9" text-anchor="middle" fill="#222" stroke="#222" stroke-width="0.1">IP:BIM</text>
<line x1="86.50" y1="171.50" x2="120.00" y2="171.50" stroke="#333" stroke-width="0.55"/>
<text x="103.2" y="178.1" font-size="5.9" text-anchor="middle" fill="#222" stroke="#222" stroke-width="0.1">Par 12A 12D</text>
<text x="137.9" y="168.8" font-size="5.9" text-anchor="middle" fill="#222" stroke="#222" stroke-width="0.1">IP:IgG</text>
<line x1="123.50" y1="171.50" x2="153.30" y2="171.50" stroke="#333" stroke-width="0.55"/>
<text x="137.9" y="178.1" font-size="5.9" text-anchor="middle" fill="#222" stroke="#222" stroke-width="0.1">Par 12A 12D</text>
<rect x="37.80" y="180.00" width="116.00" height="17.80" fill="#f7f7f7"/>
<text x="36.8" y="191.1" font-size="6.2" text-anchor="end" fill="#222" stroke="#222" stroke-width="0.1">BIM</text>
<rect x="37.80" y="197.80" width="116.00" height="12.80" fill="#f7f7f7"/>
<text x="36.8" y="206.39999999999998" font-size="6.2" text-anchor="end" fill="#222" stroke="#222" stroke-width="0.1">BCL2</text>
<rect x="37.80" y="210.60" width="116.00" height="11.70" fill="#eeeeee"/>
<text x="36.8" y="218.64999999999998" font-size="6.2" text-anchor="end" fill="#222" stroke="#222" stroke-width="0.1">MCL1</text>
<rect x="37.80" y="222.30" width="116.00" height="10.30" fill="#9e9e9e"/>
<text x="36.8" y="229.64999999999998" font-size="6.2" text-anchor="end" fill="#222" stroke="#222" stroke-width="0.1">BCL-W</text>
<rect x="37.80" y="232.60" width="116.00" height="11.40" fill="#dadada"/>
<text x="36.8" y="240.5" font-size="6.2" text-anchor="end" fill="#222" stroke="#222" stroke-width="0.1">BCL-XL</text>
<rect x="37.80" y="244.00" width="116.00" height="9.00" fill="#f8f8f8"/>
<text x="36.8" y="250.7" font-size="6.2" text-anchor="end" fill="#222" stroke="#222" stroke-width="0.1">GAPDH</text>
<ellipse cx="45.60" cy="182.60" rx="4.00" ry="0.80" fill="rgb(191,191,191)" filter="url(#bl)"/>
<ellipse cx="45.60" cy="192.20" rx="4.00" ry="1.00" fill="rgb(204,204,204)" filter="url(#bl)"/>
<ellipse cx="45.60" cy="206.50" rx="4.90" ry="1.30" fill="rgb(12,12,12)" filter="url(#bl)"/>
<ellipse cx="45.60" cy="214.00" rx="4.50" ry="1.10" fill="rgb(140,140,140)" filter="url(#bl)"/>
<ellipse cx="45.60" cy="227.40" rx="4.75" ry="1.20" fill="rgb(107,107,107)" filter="url(#bl)"/>
<ellipse cx="45.60" cy="238.80" rx="4.75" ry="1.20" fill="rgb(20,20,20)" filter="url(#bl)"/>
<ellipse cx="45.60" cy="248.60" rx="4.25" ry="0.90" fill="rgb(20,20,20)" filter="url(#bl)"/>
<ellipse cx="58.20" cy="182.60" rx="4.00" ry="0.80" fill="rgb(191,191,191)" filter="url(#bl)"/>
<ellipse cx="58.20" cy="192.20" rx="4.00" ry="1.00" fill="rgb(204,204,204)" filter="url(#bl)"/>
<ellipse cx="58.20" cy="206.50" rx="4.90" ry="1.30" fill="rgb(12,12,12)" filter="url(#bl)"/>
<ellipse cx="58.20" cy="214.00" rx="4.50" ry="1.10" fill="rgb(25,25,25)" filter="url(#bl)"/>
<ellipse cx="58.20" cy="227.40" rx="4.75" ry="1.20" fill="rgb(127,127,127)" filter="url(#bl)"/>
<ellipse cx="58.20" cy="238.80" rx="4.75" ry="1.20" fill="rgb(20,20,20)" filter="url(#bl)"/>
<ellipse cx="58.20" cy="248.60" rx="4.25" ry="0.90" fill="rgb(20,20,20)" filter="url(#bl)"/>
<ellipse cx="69.80" cy="182.60" rx="4.00" ry="0.80" fill="rgb(191,191,191)" filter="url(#bl)"/>
<ellipse cx="69.80" cy="192.20" rx="4.00" ry="1.00" fill="rgb(204,204,204)" filter="url(#bl)"/>
<ellipse cx="69.80" cy="206.50" rx="4.90" ry="1.30" fill="rgb(12,12,12)" filter="url(#bl)"/>
<ellipse cx="69.80" cy="214.00" rx="4.50" ry="1.10" fill="rgb(20,20,20)" filter="url(#bl)"/>
<ellipse cx="69.80" cy="227.40" rx="4.75" ry="1.20" fill="rgb(127,127,127)" filter="url(#bl)"/>
<ellipse cx="69.80" cy="238.80" rx="4.75" ry="1.20" fill="rgb(20,20,20)" filter="url(#bl)"/>
<ellipse cx="69.80" cy="248.60" rx="4.25" ry="0.90" fill="rgb(20,20,20)" filter="url(#bl)"/>
<ellipse cx="91.60" cy="184.40" rx="5.00" ry="1.30" fill="rgb(12,12,12)" filter="url(#bl)"/>
<ellipse cx="91.60" cy="193.60" rx="5.25" ry="2.10" fill="rgb(7,7,7)" filter="url(#bl)"/>
<ellipse cx="91.60" cy="207.00" rx="4.50" ry="0.90" fill="rgb(89,89,89)" filter="url(#bl)"/>
<ellipse cx="91.60" cy="213.80" rx="5.00" ry="1.30" fill="rgb(50,50,50)" filter="url(#bl)"/>
<ellipse cx="91.60" cy="227.50" rx="4.50" ry="1.20" fill="rgb(147,147,147)" filter="url(#bl)"/>
<ellipse cx="91.60" cy="238.30" rx="4.75" ry="1.30" fill="rgb(96,96,96)" filter="url(#bl)"/>
<ellipse cx="91.60" cy="248.60" rx="4.00" ry="0.60" fill="rgb(234,234,234)" filter="url(#bl)"/>
<ellipse cx="103.30" cy="184.40" rx="5.00" ry="1.30" fill="rgb(71,71,71)" filter="url(#bl)"/>
<ellipse cx="103.30" cy="193.60" rx="5.25" ry="2.10" fill="rgb(7,7,7)" filter="url(#bl)"/>
<ellipse cx="103.30" cy="207.00" rx="4.50" ry="0.90" fill="rgb(204,204,204)" filter="url(#bl)"/>
<ellipse cx="103.30" cy="213.80" rx="5.00" ry="1.30" fill="rgb(7,7,7)" filter="url(#bl)"/>
<ellipse cx="103.30" cy="227.50" rx="4.50" ry="1.20" fill="rgb(147,147,147)" filter="url(#bl)"/>
<ellipse cx="103.30" cy="238.30" rx="4.75" ry="1.30" fill="rgb(114,114,114)" filter="url(#bl)"/>
<ellipse cx="103.30" cy="248.60" rx="4.00" ry="0.60" fill="rgb(234,234,234)" filter="url(#bl)"/>
<ellipse cx="114.60" cy="184.40" rx="5.00" ry="1.30" fill="rgb(20,20,20)" filter="url(#bl)"/>
<ellipse cx="114.60" cy="193.60" rx="5.25" ry="2.10" fill="rgb(7,7,7)" filter="url(#bl)"/>
<ellipse cx="114.60" cy="207.00" rx="4.50" ry="0.90" fill="rgb(198,198,198)" filter="url(#bl)"/>
<ellipse cx="114.60" cy="213.80" rx="5.00" ry="1.30" fill="rgb(7,7,7)" filter="url(#bl)"/>
<ellipse cx="114.60" cy="227.50" rx="4.50" ry="1.20" fill="rgb(147,147,147)" filter="url(#bl)"/>
<ellipse cx="114.60" cy="238.30" rx="4.75" ry="1.30" fill="rgb(122,122,122)" filter="url(#bl)"/>
<ellipse cx="114.60" cy="248.60" rx="4.00" ry="0.60" fill="rgb(234,234,234)" filter="url(#bl)"/>
<ellipse cx="129.00" cy="238.30" rx="4.25" ry="1.20" fill="rgb(122,122,122)" filter="url(#bl)"/>
<ellipse cx="138.50" cy="238.30" rx="4.25" ry="1.20" fill="rgb(107,107,107)" filter="url(#bl)"/>
<ellipse cx="148.70" cy="238.30" rx="4.25" ry="1.20" fill="rgb(127,127,127)" filter="url(#bl)"/>
<rect x="37.80" y="180.00" width="116.00" height="73.00" fill="none" stroke="#555" stroke-width="0.6"/>
<line x1="37.80" y1="197.80" x2="153.80" y2="197.80" stroke="#777" stroke-width="0.5"/>
<line x1="37.80" y1="210.60" x2="153.80" y2="210.60" stroke="#777" stroke-width="0.5"/>
<line x1="37.80" y1="222.30" x2="153.80" y2="222.30" stroke="#777" stroke-width="0.5"/>
<line x1="37.80" y1="232.60" x2="153.80" y2="232.60" stroke="#777" stroke-width="0.5"/>
<line x1="37.80" y1="244.00" x2="153.80" y2="244.00" stroke="#777" stroke-width="0.5"/>
<text x="266.5" y="159.8" font-size="7.9" text-anchor="middle" fill="#6e4e2e" stroke="#6e4e2e" stroke-width="0.1">KMS-27</text>
<text x="238.1" y="168.8" font-size="5.9" text-anchor="middle" fill="#222" stroke="#222" stroke-width="0.1">Input</text>
<line x1="226.50" y1="171.50" x2="248.60" y2="171.50" stroke="#333" stroke-width="0.55"/>
<text x="237.8" y="178.1" font-size="6.0" text-anchor="middle" fill="#222" stroke="#222" stroke-width="0.1">Par 27B</text>
<text x="269.5" y="168.8" font-size="5.9" text-anchor="middle" fill="#222" stroke="#222" stroke-width="0.1">IP:BIM</text>
<line x1="257.80" y1="171.50" x2="280.00" y2="171.50" stroke="#333" stroke-width="0.55"/>
<text x="269.3" y="178.1" font-size="6.0" text-anchor="middle" fill="#222" stroke="#222" stroke-width="0.1">Par 27B</text>
<text x="296.8" y="168.8" font-size="5.9" text-anchor="middle" fill="#222" stroke="#222" stroke-width="0.1">IP:IgG</text>
<line x1="286.00" y1="171.50" x2="307.60" y2="171.50" stroke="#333" stroke-width="0.55"/>
<text x="297.0" y="178.1" font-size="6.0" text-anchor="middle" fill="#222" stroke="#222" stroke-width="0.1">Par 27B</text>
<rect x="218.40" y="180.80" width="96.30" height="17.60" fill="#f4f4f4"/>
<text x="217.2" y="191.8" font-size="6.2" text-anchor="end" fill="#222" stroke="#222" stroke-width="0.1">BIM</text>
<rect x="218.40" y="198.40" width="96.30" height="11.80" fill="#eeeeee"/>
<text x="217.2" y="206.5" font-size="6.2" text-anchor="end" fill="#222" stroke="#222" stroke-width="0.1">BCL2</text>
<rect x="218.40" y="210.20" width="96.30" height="10.40" fill="#f2f2f2"/>
<text x="217.2" y="217.59999999999997" font-size="6.2" text-anchor="end" fill="#222" stroke="#222" stroke-width="0.1">MCL1</text>
<rect x="218.40" y="220.60" width="96.30" height="11.20" fill="#bdbdbd"/>
<text x="217.2" y="228.39999999999998" font-size="6.2" text-anchor="end" fill="#222" stroke="#222" stroke-width="0.1">BCL-W</text>
<rect x="218.40" y="231.80" width="96.30" height="10.20" fill="#f2f2f2"/>
<text x="217.2" y="239.1" font-size="6.2" text-anchor="end" fill="#222" stroke="#222" stroke-width="0.1">BCL-XL</text>
<rect x="218.40" y="242.00" width="96.30" height="10.80" fill="#fafafa"/>
<text x="217.2" y="249.6" font-size="6.2" text-anchor="end" fill="#222" stroke="#222" stroke-width="0.1">GAPDH</text>
<ellipse cx="230.90" cy="189.60" rx="4.50" ry="0.90" fill="rgb(140,140,140)" filter="url(#bl)"/>
<ellipse cx="230.90" cy="193.60" rx="4.50" ry="0.90" fill="rgb(165,165,165)" filter="url(#bl)"/>
<ellipse cx="230.90" cy="204.60" rx="6.75" ry="3.25" fill="rgb(0,0,0)" filter="url(#bl)"/>
<ellipse cx="230.90" cy="215.00" rx="3.50" ry="0.80" fill="rgb(178,178,178)" filter="url(#bl)"/>
<ellipse cx="230.90" cy="227.00" rx="4.50" ry="1.20" fill="rgb(114,114,114)" filter="url(#bl)"/>
<ellipse cx="230.90" cy="236.80" rx="5.00" ry="1.30" fill="rgb(0,0,0)" filter="url(#bl)"/>
<ellipse cx="230.90" cy="247.60" rx="4.25" ry="1.00" fill="rgb(12,12,12)" filter="url(#bl)"/>
<ellipse cx="242.80" cy="189.60" rx="4.50" ry="0.90" fill="rgb(140,140,140)" filter="url(#bl)"/>
<ellipse cx="242.80" cy="193.60" rx="4.50" ry="0.90" fill="rgb(165,165,165)" filter="url(#bl)"/>
<ellipse cx="242.80" cy="204.60" rx="6.75" ry="3.25" fill="rgb(0,0,0)" filter="url(#bl)"/>
<ellipse cx="242.80" cy="215.00" rx="3.50" ry="0.80" fill="rgb(140,140,140)" filter="url(#bl)"/>
<ellipse cx="242.80" cy="227.00" rx="4.50" ry="1.20" fill="rgb(114,114,114)" filter="url(#bl)"/>
<ellipse cx="242.80" cy="236.80" rx="5.00" ry="1.30" fill="rgb(0,0,0)" filter="url(#bl)"/>
<ellipse cx="242.80" cy="247.60" rx="4.25" ry="1.00" fill="rgb(12,12,12)" filter="url(#bl)"/>
<ellipse cx="265.10" cy="190.10" rx="4.50" ry="1.10" fill="rgb(102,102,102)" filter="url(#bl)"/>
<ellipse cx="265.10" cy="194.00" rx="4.75" ry="1.30" fill="rgb(7,7,7)" filter="url(#bl)"/>
<ellipse cx="265.10" cy="202.80" rx="4.25" ry="1.00" fill="rgb(102,102,102)" filter="url(#bl)"/>
<ellipse cx="265.10" cy="205.60" rx="4.25" ry="1.00" fill="rgb(76,76,76)" filter="url(#bl)"/>
<ellipse cx="265.10" cy="215.00" rx="4.25" ry="1.20" fill="rgb(178,178,178)" filter="url(#bl)"/>
<ellipse cx="265.10" cy="237.00" rx="4.00" ry="0.90" fill="rgb(191,191,191)" filter="url(#bl)"/>
<ellipse cx="276.20" cy="190.10" rx="4.50" ry="1.10" fill="rgb(102,102,102)" filter="url(#bl)"/>
<ellipse cx="276.20" cy="194.00" rx="4.75" ry="1.30" fill="rgb(7,7,7)" filter="url(#bl)"/>
<ellipse cx="276.20" cy="202.80" rx="4.25" ry="1.00" fill="rgb(102,102,102)" filter="url(#bl)"/>
<ellipse cx="276.20" cy="205.60" rx="4.25" ry="1.00" fill="rgb(76,76,76)" filter="url(#bl)"/>
<ellipse cx="276.20" cy="215.00" rx="4.25" ry="1.20" fill="rgb(107,107,107)" filter="url(#bl)"/>
<ellipse cx="276.20" cy="237.00" rx="4.00" ry="0.90" fill="rgb(191,191,191)" filter="url(#bl)"/>
<ellipse cx="292.00" cy="202.50" rx="4.00" ry="1.00" fill="rgb(153,153,153)" filter="url(#bl)"/>
<ellipse cx="302.60" cy="202.50" rx="4.00" ry="1.00" fill="rgb(153,153,153)" filter="url(#bl)"/>
<rect x="218.40" y="180.80" width="96.30" height="72.00" fill="none" stroke="#555" stroke-width="0.6"/>
<line x1="218.40" y1="198.40" x2="314.70" y2="198.40" stroke="#777" stroke-width="0.5"/>
<line x1="218.40" y1="210.20" x2="314.70" y2="210.20" stroke="#777" stroke-width="0.5"/>
<line x1="218.40" y1="220.60" x2="314.70" y2="220.60" stroke="#777" stroke-width="0.5"/>
<line x1="218.40" y1="231.80" x2="314.70" y2="231.80" stroke="#777" stroke-width="0.5"/>
<line x1="218.40" y1="242.00" x2="314.70" y2="242.00" stroke="#777" stroke-width="0.5"/>
<text x="441.3" y="149.9" font-size="8.0" text-anchor="middle" fill="#20735a" stroke="#20735a" stroke-width="0.1">KMS-12PE</text>
<text x="385.0" y="157.8" font-size="5.9" text-anchor="middle" fill="#222" stroke="#222" stroke-width="0.1">Peptide(μM)</text>
<text x="409.5" y="157.5" font-size="5.6" text-anchor="middle" fill="#222" stroke="#222" stroke-width="0.1">Par</text>
<line x1="409.50" y1="162.60" x2="409.50" y2="164.80" stroke="#333" stroke-width="0.6"/>
<text x="425.5" y="157.5" font-size="5.6" text-anchor="middle" fill="#222" stroke="#222" stroke-width="0.1">12A</text>
<line x1="425.50" y1="162.60" x2="425.50" y2="164.80" stroke="#333" stroke-width="0.6"/>
<text x="441.5" y="157.5" font-size="5.6" text-anchor="middle" fill="#222" stroke="#222" stroke-width="0.1">12B</text>
<line x1="441.50" y1="162.60" x2="441.50" y2="164.80" stroke="#333" stroke-width="0.6"/>
<text x="457.5" y="157.5" font-size="5.6" text-anchor="middle" fill="#222" stroke="#222" stroke-width="0.1">12C</text>
<line x1="457.50" y1="162.60" x2="457.50" y2="164.80" stroke="#333" stroke-width="0.6"/>
<text x="473.5" y="157.5" font-size="5.6" text-anchor="middle" fill="#222" stroke="#222" stroke-width="0.1">12D</text>
<line x1="473.50" y1="162.60" x2="473.50" y2="164.80" stroke="#333" stroke-width="0.6"/>
<rect x="401.50" y="164.80" width="16.60" height="9.48" fill="#e5202f"/>
<rect x="417.50" y="164.80" width="16.60" height="9.48" fill="#e52131"/>
<rect x="433.50" y="164.80" width="16.60" height="9.48" fill="#e41a29"/>
<rect x="449.50" y="164.80" width="16.60" height="9.48" fill="#ef7d8a"/>
<rect x="465.50" y="164.80" width="16.00" height="9.48" fill="#e41c2b"/>
<rect x="401.50" y="173.68" width="16.60" height="9.48" fill="#e62939"/>
<rect x="417.50" y="173.68" width="16.60" height="9.48" fill="#e62b3a"/>
<rect x="433.50" y="173.68" width="16.60" height="9.48" fill="#e41a29"/>
<rect x="449.50" y="173.68" width="16.60" height="9.48" fill="#f4a5af"/>
<rect x="465.50" y="173.68" width="16.00" height="9.48" fill="#e5202f"/>
<rect x="401.50" y="182.56" width="16.60" height="9.48" fill="#ea505e"/>
<rect x="417.50" y="182.56" width="16.60" height="9.48" fill="#ec606e"/>
<rect x="433.50" y="182.56" width="16.60" height="9.48" fill="#e41c2b"/>
<rect x="449.50" y="182.56" width="16.60" height="9.48" fill="#fce5e8"/>
<rect x="465.50" y="182.56" width="16.00" height="9.48" fill="#e83b4a"/>
<rect x="401.50" y="191.44" width="16.60" height="9.48" fill="#f9cdd2"/>
<rect x="417.50" y="191.44" width="16.60" height="9.48" fill="#f7bec5"/>
<rect x="433.50" y="191.44" width="16.60" height="9.48" fill="#e5202f"/>
<rect x="449.50" y="191.44" width="16.60" height="9.48" fill="#fdf2f3"/>
<rect x="465.50" y="191.44" width="16.00" height="9.48" fill="#f39da8"/>
<rect x="401.50" y="200.32" width="16.60" height="9.48" fill="#e41c2b"/>
<rect x="417.50" y="200.32" width="16.60" height="9.48" fill="#ed6d7b"/>
<rect x="433.50" y="200.32" width="16.60" height="9.48" fill="#e5202f"/>
<rect x="449.50" y="200.32" width="16.60" height="9.48" fill="#f6b6be"/>
<rect x="465.50" y="200.32" width="16.00" height="9.48" fill="#e8414f"/>
<rect x="401.50" y="209.20" width="16.60" height="9.48" fill="#f18d99"/>
<rect x="417.50" y="209.20" width="16.60" height="9.48" fill="#ffffff"/>
<rect x="433.50" y="209.20" width="16.60" height="9.48" fill="#ffffff"/>
<rect x="449.50" y="209.20" width="16.60" height="9.48" fill="#ffffff"/>
<rect x="465.50" y="209.20" width="16.00" height="9.48" fill="#ffffff"/>
<rect x="401.50" y="218.08" width="16.60" height="9.48" fill="#e41c2b"/>
<rect x="417.50" y="218.08" width="16.60" height="9.48" fill="#e73544"/>
<rect x="433.50" y="218.08" width="16.60" height="9.48" fill="#e41c2b"/>
<rect x="449.50" y="218.08" width="16.60" height="9.48" fill="#ec5e6c"/>
<rect x="465.50" y="218.08" width="16.00" height="9.48" fill="#e62737"/>
<rect x="401.50" y="226.96" width="16.60" height="9.48" fill="#e41c2b"/>
<rect x="417.50" y="226.96" width="16.60" height="9.48" fill="#fbdfe2"/>
<rect x="433.50" y="226.96" width="16.60" height="9.48" fill="#f39da8"/>
<rect x="449.50" y="226.96" width="16.60" height="9.48" fill="#ffffff"/>
<rect x="465.50" y="226.96" width="16.00" height="9.48" fill="#f4a5af"/>
<rect x="401.50" y="235.84" width="16.60" height="9.48" fill="#ec5e6c"/>
<rect x="417.50" y="235.84" width="16.60" height="9.48" fill="#ffffff"/>
<rect x="433.50" y="235.84" width="16.60" height="9.48" fill="#f9cfd4"/>
<rect x="449.50" y="235.84" width="16.60" height="9.48" fill="#ffffff"/>
<rect x="465.50" y="235.84" width="16.00" height="9.48" fill="#fce7ea"/>
<rect x="401.50" y="244.72" width="16.60" height="9.48" fill="#f9cfd4"/>
<rect x="417.50" y="244.72" width="16.60" height="9.48" fill="#ee7582"/>
<rect x="433.50" y="244.72" width="16.60" height="9.48" fill="#e41828"/>
<rect x="449.50" y="244.72" width="16.60" height="9.48" fill="#fbdfe2"/>
<rect x="465.50" y="244.72" width="16.00" height="9.48" fill="#ec5e6c"/>
<rect x="401.50" y="253.60" width="16.60" height="9.48" fill="#ffffff"/>
<rect x="417.50" y="253.60" width="16.60" height="9.48" fill="#ffffff"/>
<rect x="433.50" y="253.60" width="16.60" height="9.48" fill="#f39da8"/>
<rect x="449.50" y="253.60" width="16.60" height="9.48" fill="#fce3e6"/>
<rect x="465.50" y="253.60" width="16.00" height="9.48" fill="#fce3e6"/>
<rect x="401.50" y="262.48" width="16.60" height="9.48" fill="#f4a5af"/>
<rect x="417.50" y="262.48" width="16.60" height="9.48" fill="#fce3e6"/>
<rect x="433.50" y="262.48" width="16.60" height="9.48" fill="#f8c6cc"/>
<rect x="449.50" y="262.48" width="16.60" height="9.48" fill="#f4a5af"/>
<rect x="465.50" y="262.48" width="16.00" height="9.48" fill="#f39da8"/>
<rect x="401.50" y="271.36" width="16.60" height="8.88" fill="#ffffff"/>
<rect x="417.50" y="271.36" width="16.60" height="8.88" fill="#ffffff"/>
<rect x="433.50" y="271.36" width="16.60" height="8.88" fill="#fce7ea"/>
<rect x="449.50" y="271.36" width="16.60" height="8.88" fill="#ffffff"/>
<rect x="465.50" y="271.36" width="16.00" height="8.88" fill="#f9cfd4"/>
<rect x="401.50" y="164.80" width="80.00" height="115.44" fill="none" stroke="#333" stroke-width="0.7"/>
<path d="M391.00,165.10 L400.80,165.10 L400.80,199.12 Z" fill="#8a8a8a"/>
<text x="390.2" y="169.1" font-size="5.9" text-anchor="end" fill="#222" stroke="#222" stroke-width="0.1">1</text>
<text x="396.5" y="196.9" font-size="5.9" text-anchor="end" fill="#222" stroke="#222" stroke-width="0.1">0.125</text>
<text x="368.2" y="184.6" font-size="6.2" text-anchor="start" fill="#222" stroke="#222" stroke-width="0.1">BIM</text>
<path d="M391.00,200.62 L400.80,200.62 L400.80,216.88 Z" fill="#8a8a8a"/>
<text x="390.2" y="202.4" font-size="5.9" text-anchor="end" fill="#222" stroke="#222" stroke-width="0.1">10</text>
<text x="396.5" y="217.0" font-size="5.9" text-anchor="end" fill="#222" stroke="#222" stroke-width="0.1">1</text>
<text x="368.2" y="210.79999999999998" font-size="6.2" text-anchor="start" fill="#222" stroke="#222" stroke-width="0.1">PUMA</text>
<path d="M391.00,218.38 L400.80,218.38 L400.80,243.52 Z" fill="#8a8a8a"/>
<text x="390.2" y="220.5" font-size="5.9" text-anchor="end" fill="#222" stroke="#222" stroke-width="0.1">100</text>
<text x="396.5" y="241.5" font-size="5.9" text-anchor="end" fill="#222" stroke="#222" stroke-width="0.1">1</text>
<text x="368.2" y="231.7" font-size="6.2" text-anchor="start" fill="#222" stroke="#222" stroke-width="0.1">BAD</text>
<path d="M391.00,245.02 L400.80,245.02 L400.80,261.28 Z" fill="#8a8a8a"/>
<text x="390.2" y="247.29999999999998" font-size="5.9" text-anchor="end" fill="#222" stroke="#222" stroke-width="0.1">10</text>
<text x="396.5" y="259.90000000000003" font-size="5.9" text-anchor="end" fill="#222" stroke="#222" stroke-width="0.1">2.5</text>
<text x="368.2" y="254.7" font-size="6.2" text-anchor="start" fill="#222" stroke="#222" stroke-width="0.1">MS1</text>
<path d="M391.00,262.78 L400.80,262.78 L400.80,279.04 Z" fill="#8a8a8a"/>
<text x="390.2" y="265.1" font-size="5.9" text-anchor="end" fill="#222" stroke="#222" stroke-width="0.1">100</text>
<text x="396.5" y="281.20000000000005" font-size="5.9" text-anchor="end" fill="#222" stroke="#222" stroke-width="0.1">10</text>
<text x="368.2" y="272.09999999999997" font-size="6.2" text-anchor="start" fill="#222" stroke="#222" stroke-width="0.1">HRK</text>
<rect x="486.4" y="164.6" width="5.8" height="115.70000000000002" fill="url(#cb)" stroke="#333" stroke-width="0.7"/>
<line x1="492.20" y1="280.30" x2="493.70" y2="280.30" stroke="#333" stroke-width="0.5"/>
<text x="494.2" y="282.3" font-size="5.7" text-anchor="start" fill="#222" stroke="#222" stroke-width="0.1">0</text>
<line x1="492.20" y1="255.55" x2="493.70" y2="255.55" stroke="#333" stroke-width="0.5"/>
<text x="494.2" y="257.55133689839573" font-size="5.7" text-anchor="start" fill="#222" stroke="#222" stroke-width="0.1">20</text>
<line x1="492.20" y1="230.80" x2="493.70" y2="230.80" stroke="#333" stroke-width="0.5"/>
<text x="494.2" y="232.80267379679145" font-size="5.7" text-anchor="start" fill="#222" stroke="#222" stroke-width="0.1">40</text>
<line x1="492.20" y1="206.05" x2="493.70" y2="206.05" stroke="#333" stroke-width="0.5"/>
<text x="494.2" y="208.05401069518717" font-size="5.7" text-anchor="start" fill="#222" stroke="#222" stroke-width="0.1">60</text>
<line x1="492.20" y1="181.31" x2="493.70" y2="181.31" stroke="#333" stroke-width="0.5"/>
<text x="494.2" y="183.3053475935829" font-size="5.7" text-anchor="start" fill="#222" stroke="#222" stroke-width="0.1">80</text>
<text transform="translate(506.7 222.3) rotate(90) scale(0.78 1)" font-size="6.6" text-anchor="middle" fill="#222" stroke="#222" stroke-width="0.3">% Depolarization</text>
<text x="270.5" y="311.4" font-size="7.9" text-anchor="middle" fill="#6e4e2e" stroke="#6e4e2e" stroke-width="0.1">KMS-27</text>
<text x="237.9" y="322.8" font-size="5.9" text-anchor="middle" fill="#222" stroke="#222" stroke-width="0.1">Peptide(μM)</text>
<text x="262.6" y="322.6" font-size="5.6" text-anchor="middle" fill="#222" stroke="#222" stroke-width="0.1">Par</text>
<line x1="262.60" y1="328.40" x2="262.60" y2="330.70" stroke="#333" stroke-width="0.6"/>
<text x="278.7" y="322.6" font-size="5.6" text-anchor="middle" fill="#222" stroke="#222" stroke-width="0.1">27B</text>
<line x1="278.70" y1="328.40" x2="278.70" y2="330.70" stroke="#333" stroke-width="0.6"/>
<rect x="254.40" y="330.70" width="16.60" height="9.44" fill="#e41c2b"/>
<rect x="270.40" y="330.70" width="16.00" height="9.44" fill="#e52535"/>
<rect x="254.40" y="339.54" width="16.60" height="9.44" fill="#e51e2d"/>
<rect x="270.40" y="339.54" width="16.00" height="9.44" fill="#ee6f7d"/>
<rect x="254.40" y="348.38" width="16.60" height="9.44" fill="#f08793"/>
<rect x="270.40" y="348.38" width="16.00" height="9.44" fill="#f399a4"/>
<rect x="254.40" y="357.22" width="16.60" height="9.44" fill="#fbdfe2"/>
<rect x="270.40" y="357.22" width="16.00" height="9.44" fill="#fef4f5"/>
<rect x="254.40" y="366.06" width="16.60" height="9.44" fill="#e5202f"/>
<rect x="270.40" y="366.06" width="16.00" height="9.44" fill="#f39fa9"/>
<rect x="254.40" y="374.90" width="16.60" height="9.44" fill="#fce3e6"/>
<rect x="270.40" y="374.90" width="16.00" height="9.44" fill="#ffffff"/>
<rect x="254.40" y="383.74" width="16.60" height="9.44" fill="#e41c2b"/>
<rect x="270.40" y="383.74" width="16.00" height="9.44" fill="#e83948"/>
<rect x="254.40" y="392.58" width="16.60" height="9.44" fill="#eb5664"/>
<rect x="270.40" y="392.58" width="16.00" height="9.44" fill="#f8c6cc"/>
<rect x="254.40" y="401.42" width="16.60" height="9.44" fill="#f08591"/>
<rect x="270.40" y="401.42" width="16.00" height="9.44" fill="#ffffff"/>
<rect x="254.40" y="410.26" width="16.60" height="9.44" fill="#ed6573"/>
<rect x="270.40" y="410.26" width="16.00" height="9.44" fill="#eb5866"/>
<rect x="254.40" y="419.10" width="16.60" height="9.44" fill="#f0818e"/>
<rect x="270.40" y="419.10" width="16.00" height="9.44" fill="#fad7db"/>
<rect x="254.40" y="427.94" width="16.60" height="9.44" fill="#ea505e"/>
<rect x="270.40" y="427.94" width="16.00" height="9.44" fill="#e62f3e"/>
<rect x="254.40" y="436.78" width="16.60" height="8.84" fill="#f9cfd4"/>
<rect x="270.40" y="436.78" width="16.00" height="8.84" fill="#fbdbdf"/>
<rect x="254.40" y="330.70" width="32.00" height="114.92" fill="none" stroke="#333" stroke-width="0.7"/>
<path d="M243.90,331.00 L253.70,331.00 L253.70,364.86 Z" fill="#8a8a8a"/>
<text x="243.8" y="334.40000000000003" font-size="5.9" text-anchor="end" fill="#222" stroke="#222" stroke-width="0.1">1</text>
<text x="250.0" y="362.90000000000003" font-size="5.9" text-anchor="end" fill="#222" stroke="#222" stroke-width="0.1">0.125</text>
<text x="221.9" y="350.2" font-size="6.2" text-anchor="start" fill="#222" stroke="#222" stroke-width="0.1">BIM</text>
<path d="M243.90,366.36 L253.70,366.36 L253.70,382.54 Z" fill="#8a8a8a"/>
<text x="243.8" y="368.40000000000003" font-size="5.9" text-anchor="end" fill="#222" stroke="#222" stroke-width="0.1">10</text>
<text x="250.0" y="382.1" font-size="5.9" text-anchor="end" fill="#222" stroke="#222" stroke-width="0.1">1</text>
<text x="221.9" y="376.2" font-size="6.2" text-anchor="start" fill="#222" stroke="#222" stroke-width="0.1">PUMA</text>
<path d="M243.90,384.04 L253.70,384.04 L253.70,409.06 Z" fill="#8a8a8a"/>
<text x="243.8" y="386.20000000000005" font-size="5.9" text-anchor="end" fill="#222" stroke="#222" stroke-width="0.1">100</text>
<text x="250.0" y="407.6" font-size="5.9" text-anchor="end" fill="#222" stroke="#222" stroke-width="0.1">1</text>
<text x="221.9" y="397.0" font-size="6.2" text-anchor="start" fill="#222" stroke="#222" stroke-width="0.1">BAD</text>
<path d="M243.90,410.56 L253.70,410.56 L253.70,426.74 Z" fill="#8a8a8a"/>
<text x="243.8" y="412.6" font-size="5.9" text-anchor="end" fill="#222" stroke="#222" stroke-width="0.1">10</text>
<text x="250.0" y="426.1" font-size="5.9" text-anchor="end" fill="#222" stroke="#222" stroke-width="0.1">2.5</text>
<text x="221.9" y="420.4" font-size="6.2" text-anchor="start" fill="#222" stroke="#222" stroke-width="0.1">MS1</text>
<path d="M243.90,428.24 L253.70,428.24 L253.70,444.42 Z" fill="#8a8a8a"/>
<text x="243.8" y="430.70000000000005" font-size="5.9" text-anchor="end" fill="#222" stroke="#222" stroke-width="0.1">100</text>
<text x="250.0" y="446.40000000000003" font-size="5.9" text-anchor="end" fill="#222" stroke="#222" stroke-width="0.1">10</text>
<text x="221.9" y="437.9" font-size="6.2" text-anchor="start" fill="#222" stroke="#222" stroke-width="0.1">HRK</text>
<rect x="291.2" y="330.7" width="5.8" height="114.90000000000003" fill="url(#cb)" stroke="#333" stroke-width="0.7"/>
<line x1="297.00" y1="445.60" x2="298.50" y2="445.60" stroke="#333" stroke-width="0.5"/>
<text x="299.6" y="447.6" font-size="5.7" text-anchor="start" fill="#222" stroke="#222" stroke-width="0.1">0</text>
<line x1="297.00" y1="421.02" x2="298.50" y2="421.02" stroke="#333" stroke-width="0.5"/>
<text x="299.6" y="423.02245989304816" font-size="5.7" text-anchor="start" fill="#222" stroke="#222" stroke-width="0.1">20</text>
<line x1="297.00" y1="396.44" x2="298.50" y2="396.44" stroke="#333" stroke-width="0.5"/>
<text x="299.6" y="398.44491978609625" font-size="5.7" text-anchor="start" fill="#222" stroke="#222" stroke-width="0.1">40</text>
<line x1="297.00" y1="371.87" x2="298.50" y2="371.87" stroke="#333" stroke-width="0.5"/>
<text x="299.6" y="373.8673796791444" font-size="5.7" text-anchor="start" fill="#222" stroke="#222" stroke-width="0.1">60</text>
<line x1="297.00" y1="347.29" x2="298.50" y2="347.29" stroke="#333" stroke-width="0.5"/>
<text x="299.6" y="349.2898395721925" font-size="5.7" text-anchor="start" fill="#222" stroke="#222" stroke-width="0.1">80</text>
<line x1="43.50" y1="394.00" x2="43.50" y2="307.00" stroke="#222" stroke-width="1.0"/>
<line x1="43.00" y1="393.50" x2="201.50" y2="393.50" stroke="#222" stroke-width="1.0"/>
<line x1="41.10" y1="393.50" x2="43.50" y2="393.50" stroke="#222" stroke-width="0.7"/>
<text x="38.3" y="395.5" font-size="5.6" text-anchor="end" fill="#222" stroke="#222" stroke-width="0.1">0</text>
<line x1="41.10" y1="372.70" x2="43.50" y2="372.70" stroke="#222" stroke-width="0.7"/>
<text x="38.3" y="374.7" font-size="5.6" text-anchor="end" fill="#222" stroke="#222" stroke-width="0.1">30</text>
<line x1="41.10" y1="351.90" x2="43.50" y2="351.90" stroke="#222" stroke-width="0.7"/>
<text x="38.3" y="353.9" font-size="5.6" text-anchor="end" fill="#222" stroke="#222" stroke-width="0.1">60</text>
<line x1="41.10" y1="331.10" x2="43.50" y2="331.10" stroke="#222" stroke-width="0.7"/>
<text x="38.3" y="333.1" font-size="5.6" text-anchor="end" fill="#222" stroke="#222" stroke-width="0.1">90</text>
<line x1="41.10" y1="310.30" x2="43.50" y2="310.30" stroke="#222" stroke-width="0.7"/>
<text x="38.3" y="312.3" font-size="5.6" text-anchor="end" fill="#222" stroke="#222" stroke-width="0.1">120</text>
<text transform="translate(21.4 350.2) rotate(-90) scale(0.74 1)" font-size="6.9" text-anchor="middle" fill="#222" stroke="#222" stroke-width="0.3">% Depolarization</text>
<line x1="47.48" y1="335.95" x2="47.48" y2="333.18" stroke="#333" stroke-width="0.55"/>
<line x1="46.38" y1="333.18" x2="48.58" y2="333.18" stroke="#333" stroke-width="0.55"/>
<rect x="45.50" y="335.95" width="3.95" height="57.55" fill="#0f6b48"/>
<line x1="51.43" y1="338.03" x2="51.43" y2="337.34" stroke="#333" stroke-width="0.55"/>
<line x1="50.33" y1="337.34" x2="52.53" y2="337.34" stroke="#333" stroke-width="0.55"/>
<rect x="49.45" y="338.03" width="3.95" height="55.47" fill="#4a846a"/>
<line x1="57.58" y1="343.58" x2="57.58" y2="342.19" stroke="#333" stroke-width="0.55"/>
<line x1="56.48" y1="342.19" x2="58.68" y2="342.19" stroke="#333" stroke-width="0.55"/>
<rect x="55.60" y="343.58" width="3.95" height="49.92" fill="#0f6b48"/>
<line x1="61.53" y1="344.97" x2="61.53" y2="344.27" stroke="#333" stroke-width="0.55"/>
<line x1="60.43" y1="344.27" x2="62.63" y2="344.27" stroke="#333" stroke-width="0.55"/>
<rect x="59.55" y="344.97" width="3.95" height="48.53" fill="#4a846a"/>
<line x1="67.67" y1="355.37" x2="67.67" y2="351.90" stroke="#333" stroke-width="0.55"/>
<line x1="66.58" y1="351.90" x2="68.77" y2="351.90" stroke="#333" stroke-width="0.55"/>
<rect x="65.70" y="355.37" width="3.95" height="38.13" fill="#0f6b48"/>
<line x1="71.62" y1="360.91" x2="71.62" y2="356.75" stroke="#333" stroke-width="0.55"/>
<line x1="70.53" y1="356.75" x2="72.72" y2="356.75" stroke="#333" stroke-width="0.55"/>
<rect x="69.65" y="360.91" width="3.95" height="32.59" fill="#4a846a"/>
<line x1="77.77" y1="382.41" x2="77.77" y2="381.71" stroke="#333" stroke-width="0.55"/>
<line x1="76.67" y1="381.71" x2="78.87" y2="381.71" stroke="#333" stroke-width="0.55"/>
<rect x="75.80" y="382.41" width="3.95" height="11.09" fill="#0f6b48"/>
<line x1="81.72" y1="378.94" x2="81.72" y2="376.86" stroke="#333" stroke-width="0.55"/>
<line x1="80.62" y1="376.86" x2="82.82" y2="376.86" stroke="#333" stroke-width="0.55"/>
<rect x="79.75" y="378.94" width="3.95" height="14.56" fill="#4a846a"/>
<line x1="93.97" y1="340.11" x2="93.97" y2="339.42" stroke="#333" stroke-width="0.55"/>
<line x1="92.88" y1="339.42" x2="95.07" y2="339.42" stroke="#333" stroke-width="0.55"/>
<rect x="92.00" y="340.11" width="3.95" height="53.39" fill="#0f6b48"/>
<line x1="97.92" y1="362.30" x2="97.92" y2="355.37" stroke="#333" stroke-width="0.55"/>
<line x1="96.83" y1="355.37" x2="99.02" y2="355.37" stroke="#333" stroke-width="0.55"/>
<rect x="95.95" y="362.30" width="3.95" height="31.20" fill="#4a846a"/>
<line x1="104.38" y1="370.62" x2="104.38" y2="369.23" stroke="#333" stroke-width="0.55"/>
<line x1="103.28" y1="369.23" x2="105.47" y2="369.23" stroke="#333" stroke-width="0.55"/>
<rect x="102.40" y="370.62" width="3.95" height="22.88" fill="#0f6b48"/>
<line x1="108.33" y1="393.50" x2="108.33" y2="392.81" stroke="#333" stroke-width="0.55"/>
<line x1="107.23" y1="392.81" x2="109.42" y2="392.81" stroke="#333" stroke-width="0.55"/>
<line x1="120.27" y1="327.63" x2="120.27" y2="326.94" stroke="#333" stroke-width="0.55"/>
<line x1="119.17" y1="326.94" x2="121.37" y2="326.94" stroke="#333" stroke-width="0.55"/>
<rect x="118.30" y="327.63" width="3.95" height="65.87" fill="#0f6b48"/>
<line x1="124.22" y1="349.82" x2="124.22" y2="349.13" stroke="#333" stroke-width="0.55"/>
<line x1="123.12" y1="349.13" x2="125.32" y2="349.13" stroke="#333" stroke-width="0.55"/>
<rect x="122.25" y="349.82" width="3.95" height="43.68" fill="#4a846a"/>
<line x1="130.28" y1="340.11" x2="130.28" y2="338.03" stroke="#333" stroke-width="0.55"/>
<line x1="129.18" y1="338.03" x2="131.38" y2="338.03" stroke="#333" stroke-width="0.55"/>
<rect x="128.30" y="340.11" width="3.95" height="53.39" fill="#0f6b48"/>
<line x1="134.22" y1="387.95" x2="134.22" y2="387.26" stroke="#333" stroke-width="0.55"/>
<line x1="133.12" y1="387.26" x2="135.32" y2="387.26" stroke="#333" stroke-width="0.55"/>
<rect x="132.25" y="387.95" width="3.95" height="5.55" fill="#4a846a"/>
<line x1="140.57" y1="361.61" x2="140.57" y2="360.91" stroke="#333" stroke-width="0.55"/>
<line x1="139.47" y1="360.91" x2="141.67" y2="360.91" stroke="#333" stroke-width="0.55"/>
<rect x="138.60" y="361.61" width="3.95" height="31.89" fill="#0f6b48"/>
<line x1="144.52" y1="393.50" x2="144.52" y2="393.15" stroke="#333" stroke-width="0.55"/>
<line x1="143.42" y1="393.15" x2="145.62" y2="393.15" stroke="#333" stroke-width="0.55"/>
<line x1="156.38" y1="385.18" x2="156.38" y2="379.63" stroke="#333" stroke-width="0.55"/>
<line x1="155.28" y1="379.63" x2="157.47" y2="379.63" stroke="#333" stroke-width="0.55"/>
<rect x="154.40" y="385.18" width="3.95" height="8.32" fill="#0f6b48"/>
<line x1="160.32" y1="369.23" x2="160.32" y2="367.15" stroke="#333" stroke-width="0.55"/>
<line x1="159.22" y1="367.15" x2="161.42" y2="367.15" stroke="#333" stroke-width="0.55"/>
<rect x="158.35" y="369.23" width="3.95" height="24.27" fill="#4a846a"/>
<line x1="167.17" y1="393.50" x2="167.17" y2="391.42" stroke="#333" stroke-width="0.55"/>
<line x1="166.07" y1="391.42" x2="168.27" y2="391.42" stroke="#333" stroke-width="0.55"/>
<line x1="182.88" y1="376.17" x2="182.88" y2="374.09" stroke="#333" stroke-width="0.55"/>
<line x1="181.78" y1="374.09" x2="183.97" y2="374.09" stroke="#333" stroke-width="0.55"/>
<rect x="180.90" y="376.17" width="3.95" height="17.33" fill="#0f6b48"/>
<line x1="186.82" y1="389.34" x2="186.82" y2="384.49" stroke="#333" stroke-width="0.55"/>
<line x1="185.72" y1="384.49" x2="187.92" y2="384.49" stroke="#333" stroke-width="0.55"/>
<rect x="184.85" y="389.34" width="3.95" height="4.16" fill="#4a846a"/>
<line x1="193.47" y1="392.11" x2="193.47" y2="391.42" stroke="#333" stroke-width="0.55"/>
<line x1="192.38" y1="391.42" x2="194.57" y2="391.42" stroke="#333" stroke-width="0.55"/>
<rect x="191.50" y="392.11" width="3.95" height="1.39" fill="#0f6b48"/>
<line x1="197.42" y1="392.81" x2="197.42" y2="390.73" stroke="#333" stroke-width="0.55"/>
<line x1="196.32" y1="390.73" x2="198.52" y2="390.73" stroke="#333" stroke-width="0.55"/>
<rect x="195.45" y="392.81" width="3.95" height="0.69" fill="#4a846a"/>
<line x1="49.45" y1="393.50" x2="49.45" y2="395.90" stroke="#222" stroke-width="0.6"/>
<line x1="59.55" y1="393.50" x2="59.55" y2="395.90" stroke="#222" stroke-width="0.6"/>
<line x1="69.65" y1="393.50" x2="69.65" y2="395.90" stroke="#222" stroke-width="0.6"/>
<line x1="79.75" y1="393.50" x2="79.75" y2="395.90" stroke="#222" stroke-width="0.6"/>
<line x1="95.95" y1="393.50" x2="95.95" y2="395.90" stroke="#222" stroke-width="0.6"/>
<line x1="106.35" y1="393.50" x2="106.35" y2="395.90" stroke="#222" stroke-width="0.6"/>
<line x1="122.25" y1="393.50" x2="122.25" y2="395.90" stroke="#222" stroke-width="0.6"/>
<line x1="132.25" y1="393.50" x2="132.25" y2="395.90" stroke="#222" stroke-width="0.6"/>
<line x1="142.55" y1="393.50" x2="142.55" y2="395.90" stroke="#222" stroke-width="0.6"/>
<line x1="158.35" y1="393.50" x2="158.35" y2="395.90" stroke="#222" stroke-width="0.6"/>
<line x1="169.15" y1="393.50" x2="169.15" y2="395.90" stroke="#222" stroke-width="0.6"/>
<line x1="184.85" y1="393.50" x2="184.85" y2="395.90" stroke="#222" stroke-width="0.6"/>
<line x1="195.45" y1="393.50" x2="195.45" y2="395.90" stroke="#222" stroke-width="0.6"/>
<text x="52.650000000000006" y="402.3" font-size="6.1" text-anchor="end" fill="#222" stroke="#222" stroke-width="0.1" transform="rotate(-45 52.650000000000006 402.3)">1</text>
<text x="62.75000000000001" y="402.3" font-size="6.1" text-anchor="end" fill="#222" stroke="#222" stroke-width="0.1" transform="rotate(-45 62.75000000000001 402.3)">0.5</text>
<text x="72.85000000000001" y="402.3" font-size="6.1" text-anchor="end" fill="#222" stroke="#222" stroke-width="0.1" transform="rotate(-45 72.85000000000001 402.3)">0.25</text>
<text x="82.95" y="402.3" font-size="6.1" text-anchor="end" fill="#222" stroke="#222" stroke-width="0.1" transform="rotate(-45 82.95 402.3)">0.125</text>
<text x="99.15" y="402.3" font-size="6.1" text-anchor="end" fill="#222" stroke="#222" stroke-width="0.1" transform="rotate(-45 99.15 402.3)">10</text>
<text x="109.55000000000001" y="402.3" font-size="6.1" text-anchor="end" fill="#222" stroke="#222" stroke-width="0.1" transform="rotate(-45 109.55000000000001 402.3)">1</text>
<text x="125.45" y="402.3" font-size="6.1" text-anchor="end" fill="#222" stroke="#222" stroke-width="0.1" transform="rotate(-45 125.45 402.3)">100</text>
<text x="135.45" y="402.3" font-size="6.1" text-anchor="end" fill="#222" stroke="#222" stroke-width="0.1" transform="rotate(-45 135.45 402.3)">10</text>
<text x="145.74999999999997" y="402.3" font-size="6.1" text-anchor="end" fill="#222" stroke="#222" stroke-width="0.1" transform="rotate(-45 145.74999999999997 402.3)">1</text>
<text x="161.54999999999998" y="402.3" font-size="6.1" text-anchor="end" fill="#222" stroke="#222" stroke-width="0.1" transform="rotate(-45 161.54999999999998 402.3)">10</text>
<text x="172.34999999999997" y="402.3" font-size="6.1" text-anchor="end" fill="#222" stroke="#222" stroke-width="0.1" transform="rotate(-45 172.34999999999997 402.3)">2.5</text>
<text x="188.04999999999998" y="402.3" font-size="6.1" text-anchor="end" fill="#222" stroke="#222" stroke-width="0.1" transform="rotate(-45 188.04999999999998 402.3)">100</text>
<text x="198.64999999999998" y="402.3" font-size="6.1" text-anchor="end" fill="#222" stroke="#222" stroke-width="0.1" transform="rotate(-45 198.64999999999998 402.3)">10</text>
<path d="M93.97,337.62 L93.97,323.20 Q93.97,322.00 95.17,322.00 L96.72,322.00 Q97.92,322.00 97.92,323.20 L97.92,353.57" stroke="#9a9a9a" stroke-width="0.9" fill="none"/>
<circle cx="92.50" cy="319.00" r="0.8" fill="#333"/>
<circle cx="94.80" cy="319.00" r="0.8" fill="#333"/>
<circle cx="97.10" cy="319.00" r="0.8" fill="#333"/>
<circle cx="99.40" cy="319.00" r="0.8" fill="#333"/>
<path d="M104.38,367.43 L104.38,323.20 Q104.38,322.00 105.58,322.00 L107.12,322.00 Q108.33,322.00 108.33,323.20 L108.33,391.00" stroke="#9a9a9a" stroke-width="0.9" fill="none"/>
<circle cx="102.90" cy="319.00" r="0.8" fill="#333"/>
<circle cx="105.20" cy="319.00" r="0.8" fill="#333"/>
<circle cx="107.50" cy="319.00" r="0.8" fill="#333"/>
<circle cx="109.80" cy="319.00" r="0.8" fill="#333"/>
<path d="M120.27,325.14 L120.27,323.20 Q120.27,322.00 121.47,322.00 L123.02,322.00 Q124.22,322.00 124.22,323.20 L124.22,347.33" stroke="#9a9a9a" stroke-width="0.9" fill="none"/>
<circle cx="118.80" cy="319.00" r="0.8" fill="#333"/>
<circle cx="121.10" cy="319.00" r="0.8" fill="#333"/>
<circle cx="123.40" cy="319.00" r="0.8" fill="#333"/>
<circle cx="125.70" cy="319.00" r="0.8" fill="#333"/>
<path d="M130.28,336.23 L130.28,323.20 Q130.28,322.00 131.47,322.00 L133.03,322.00 Q134.23,322.00 134.23,323.20 L134.23,385.46" stroke="#9a9a9a" stroke-width="0.9" fill="none"/>
<circle cx="128.80" cy="319.00" r="0.8" fill="#333"/>
<circle cx="131.10" cy="319.00" r="0.8" fill="#333"/>
<circle cx="133.40" cy="319.00" r="0.8" fill="#333"/>
<circle cx="135.70" cy="319.00" r="0.8" fill="#333"/>
<path d="M140.57,359.11 L140.57,323.20 Q140.57,322.00 141.77,322.00 L143.33,322.00 Q144.53,322.00 144.53,323.20 L144.53,391.00" stroke="#9a9a9a" stroke-width="0.9" fill="none"/>
<circle cx="139.10" cy="319.00" r="0.8" fill="#333"/>
<circle cx="141.40" cy="319.00" r="0.8" fill="#333"/>
<circle cx="143.70" cy="319.00" r="0.8" fill="#333"/>
<circle cx="146.00" cy="319.00" r="0.8" fill="#333"/>
<path d="M156.38,377.83 L156.38,323.20 Q156.38,322.00 157.57,322.00 L159.13,322.00 Q160.33,322.00 160.33,323.20 L160.33,365.35" stroke="#9a9a9a" stroke-width="0.9" fill="none"/>
<circle cx="157.20" cy="319.00" r="0.8" fill="#333"/>
<circle cx="159.50" cy="319.00" r="0.8" fill="#333"/>
<path d="M182.88,372.29 L182.88,323.20 Q182.88,322.00 184.07,322.00 L185.63,322.00 Q186.83,322.00 186.83,323.20 L186.83,382.69" stroke="#9a9a9a" stroke-width="0.9" fill="none"/>
<circle cx="184.85" cy="319.00" r="0.8" fill="#333"/>
<rect x="49.30" y="309.50" width="6.00" height="2.30" fill="#0f6b48"/>
<rect x="49.30" y="316.70" width="6.00" height="2.30" fill="#4a846a"/>
<text x="57.3" y="312.5" font-size="5.9" text-anchor="start" fill="#222" stroke="#222" stroke-width="0.1">Parental</text>
<text x="57.3" y="319.6" font-size="5.9" text-anchor="start" fill="#222" stroke="#222" stroke-width="0.1">12A</text>
<text x="34.0" y="422.5" font-size="5.6" text-anchor="start" fill="#222" stroke="#222" stroke-width="0.1">(μM)</text>
<text x="64.7" y="422.5" font-size="5.8" text-anchor="middle" fill="#222" stroke="#222" stroke-width="0.1">BIM</text>
<text x="101" y="422.5" font-size="5.8" text-anchor="middle" fill="#222" stroke="#222" stroke-width="0.1">PUMA</text>
<text x="132.5" y="422.5" font-size="5.8" text-anchor="middle" fill="#222" stroke="#222" stroke-width="0.1">BAD</text>
<text x="163.6" y="422.5" font-size="5.8" text-anchor="middle" fill="#222" stroke="#222" stroke-width="0.1">MS1</text>
<text x="190.1" y="422.5" font-size="5.8" text-anchor="middle" fill="#222" stroke="#222" stroke-width="0.1">HRK</text>
<line x1="354.50" y1="400.00" x2="354.50" y2="312.00" stroke="#222" stroke-width="1.0"/>
<line x1="354.00" y1="399.50" x2="514.00" y2="399.50" stroke="#222" stroke-width="1.0"/>
<line x1="352.10" y1="399.50" x2="354.50" y2="399.50" stroke="#222" stroke-width="0.7"/>
<text x="349.3" y="401.5" font-size="5.6" text-anchor="end" fill="#222" stroke="#222" stroke-width="0.1">0</text>
<line x1="352.10" y1="378.45" x2="354.50" y2="378.45" stroke="#222" stroke-width="0.7"/>
<text x="349.3" y="380.45" font-size="5.6" text-anchor="end" fill="#222" stroke="#222" stroke-width="0.1">30</text>
<line x1="352.10" y1="357.40" x2="354.50" y2="357.40" stroke="#222" stroke-width="0.7"/>
<text x="349.3" y="359.4" font-size="5.6" text-anchor="end" fill="#222" stroke="#222" stroke-width="0.1">60</text>
<line x1="352.10" y1="336.35" x2="354.50" y2="336.35" stroke="#222" stroke-width="0.7"/>
<text x="349.3" y="338.35" font-size="5.6" text-anchor="end" fill="#222" stroke="#222" stroke-width="0.1">90</text>
<line x1="352.10" y1="315.30" x2="354.50" y2="315.30" stroke="#222" stroke-width="0.7"/>
<text x="349.3" y="317.3" font-size="5.6" text-anchor="end" fill="#222" stroke="#222" stroke-width="0.1">120</text>
<text transform="translate(333.2 355.3) rotate(-90) scale(0.74 1)" font-size="6.9" text-anchor="middle" fill="#222" stroke="#222" stroke-width="0.3">% Depolarization</text>
<line x1="359.48" y1="335.65" x2="359.48" y2="334.95" stroke="#333" stroke-width="0.55"/>
<line x1="358.38" y1="334.95" x2="360.58" y2="334.95" stroke="#333" stroke-width="0.55"/>
<rect x="357.50" y="335.65" width="3.95" height="63.85" fill="#6c3b14"/>
<line x1="363.43" y1="342.67" x2="363.43" y2="341.26" stroke="#333" stroke-width="0.55"/>
<line x1="362.32" y1="341.26" x2="364.53" y2="341.26" stroke="#333" stroke-width="0.55"/>
<rect x="361.45" y="342.67" width="3.95" height="56.83" fill="#b38b5e"/>
<line x1="369.68" y1="346.17" x2="369.68" y2="344.77" stroke="#333" stroke-width="0.55"/>
<line x1="368.57" y1="344.77" x2="370.78" y2="344.77" stroke="#333" stroke-width="0.55"/>
<rect x="367.70" y="346.17" width="3.95" height="53.33" fill="#6c3b14"/>
<line x1="373.62" y1="368.63" x2="373.62" y2="359.50" stroke="#333" stroke-width="0.55"/>
<line x1="372.52" y1="359.50" x2="374.73" y2="359.50" stroke="#333" stroke-width="0.55"/>
<rect x="371.65" y="368.63" width="3.95" height="30.87" fill="#b38b5e"/>
<line x1="379.88" y1="378.45" x2="379.88" y2="377.05" stroke="#333" stroke-width="0.55"/>
<line x1="378.77" y1="377.05" x2="380.98" y2="377.05" stroke="#333" stroke-width="0.55"/>
<rect x="377.90" y="378.45" width="3.95" height="21.05" fill="#6c3b14"/>
<line x1="383.82" y1="377.75" x2="383.82" y2="369.33" stroke="#333" stroke-width="0.55"/>
<line x1="382.72" y1="369.33" x2="384.93" y2="369.33" stroke="#333" stroke-width="0.55"/>
<rect x="381.85" y="377.75" width="3.95" height="21.75" fill="#b38b5e"/>
<line x1="389.88" y1="393.89" x2="389.88" y2="391.08" stroke="#333" stroke-width="0.55"/>
<line x1="388.77" y1="391.08" x2="390.98" y2="391.08" stroke="#333" stroke-width="0.55"/>
<rect x="387.90" y="393.89" width="3.95" height="5.61" fill="#6c3b14"/>
<line x1="406.08" y1="351.79" x2="406.08" y2="350.38" stroke="#333" stroke-width="0.55"/>
<line x1="404.98" y1="350.38" x2="407.18" y2="350.38" stroke="#333" stroke-width="0.55"/>
<rect x="404.10" y="351.79" width="3.95" height="47.71" fill="#6c3b14"/>
<line x1="410.03" y1="381.96" x2="410.03" y2="380.56" stroke="#333" stroke-width="0.55"/>
<line x1="408.93" y1="380.56" x2="411.13" y2="380.56" stroke="#333" stroke-width="0.55"/>
<rect x="408.05" y="381.96" width="3.95" height="17.54" fill="#b38b5e"/>
<line x1="416.38" y1="394.59" x2="416.38" y2="392.48" stroke="#333" stroke-width="0.55"/>
<line x1="415.27" y1="392.48" x2="417.48" y2="392.48" stroke="#333" stroke-width="0.55"/>
<rect x="414.40" y="394.59" width="3.95" height="4.91" fill="#6c3b14"/>
<line x1="432.28" y1="346.17" x2="432.28" y2="345.47" stroke="#333" stroke-width="0.55"/>
<line x1="431.18" y1="345.47" x2="433.38" y2="345.47" stroke="#333" stroke-width="0.55"/>
<rect x="430.30" y="346.17" width="3.95" height="53.33" fill="#6c3b14"/>
<line x1="436.23" y1="359.50" x2="436.23" y2="354.59" stroke="#333" stroke-width="0.55"/>
<line x1="435.12" y1="354.59" x2="437.33" y2="354.59" stroke="#333" stroke-width="0.55"/>
<rect x="434.25" y="359.50" width="3.95" height="40.00" fill="#b38b5e"/>
<line x1="442.38" y1="364.42" x2="442.38" y2="360.91" stroke="#333" stroke-width="0.55"/>
<line x1="441.27" y1="360.91" x2="443.48" y2="360.91" stroke="#333" stroke-width="0.55"/>
<rect x="440.40" y="364.42" width="3.95" height="35.08" fill="#6c3b14"/>
<line x1="446.32" y1="386.87" x2="446.32" y2="384.06" stroke="#333" stroke-width="0.55"/>
<line x1="445.22" y1="384.06" x2="447.43" y2="384.06" stroke="#333" stroke-width="0.55"/>
<rect x="444.35" y="386.87" width="3.95" height="12.63" fill="#b38b5e"/>
<line x1="452.68" y1="379.85" x2="452.68" y2="374.94" stroke="#333" stroke-width="0.55"/>
<line x1="451.57" y1="374.94" x2="453.78" y2="374.94" stroke="#333" stroke-width="0.55"/>
<rect x="450.70" y="379.85" width="3.95" height="19.65" fill="#6c3b14"/>
<line x1="468.78" y1="367.93" x2="468.78" y2="361.61" stroke="#333" stroke-width="0.55"/>
<line x1="467.68" y1="361.61" x2="469.88" y2="361.61" stroke="#333" stroke-width="0.55"/>
<rect x="466.80" y="367.93" width="3.95" height="31.57" fill="#6c3b14"/>
<line x1="472.73" y1="368.63" x2="472.73" y2="367.93" stroke="#333" stroke-width="0.55"/>
<line x1="471.62" y1="367.93" x2="473.83" y2="367.93" stroke="#333" stroke-width="0.55"/>
<rect x="470.75" y="368.63" width="3.95" height="30.87" fill="#b38b5e"/>
<line x1="478.98" y1="379.85" x2="478.98" y2="369.33" stroke="#333" stroke-width="0.55"/>
<line x1="477.88" y1="369.33" x2="480.08" y2="369.33" stroke="#333" stroke-width="0.55"/>
<rect x="477.00" y="379.85" width="3.95" height="19.65" fill="#6c3b14"/>
<line x1="482.93" y1="391.78" x2="482.93" y2="389.68" stroke="#333" stroke-width="0.55"/>
<line x1="481.82" y1="389.68" x2="484.03" y2="389.68" stroke="#333" stroke-width="0.55"/>
<rect x="480.95" y="391.78" width="3.95" height="7.72" fill="#b38b5e"/>
<line x1="494.88" y1="365.82" x2="494.88" y2="365.12" stroke="#333" stroke-width="0.55"/>
<line x1="493.77" y1="365.12" x2="495.98" y2="365.12" stroke="#333" stroke-width="0.55"/>
<rect x="492.90" y="365.82" width="3.95" height="33.68" fill="#6c3b14"/>
<line x1="498.82" y1="358.10" x2="498.82" y2="357.40" stroke="#333" stroke-width="0.55"/>
<line x1="497.72" y1="357.40" x2="499.93" y2="357.40" stroke="#333" stroke-width="0.55"/>
<rect x="496.85" y="358.10" width="3.95" height="41.40" fill="#b38b5e"/>
<line x1="505.28" y1="388.27" x2="505.28" y2="387.57" stroke="#333" stroke-width="0.55"/>
<line x1="504.18" y1="387.57" x2="506.38" y2="387.57" stroke="#333" stroke-width="0.55"/>
<rect x="503.30" y="388.27" width="3.95" height="11.23" fill="#6c3b14"/>
<line x1="509.23" y1="391.78" x2="509.23" y2="383.36" stroke="#333" stroke-width="0.55"/>
<line x1="508.12" y1="383.36" x2="510.33" y2="383.36" stroke="#333" stroke-width="0.55"/>
<rect x="507.25" y="391.78" width="3.95" height="7.72" fill="#b38b5e"/>
<line x1="361.45" y1="399.50" x2="361.45" y2="401.90" stroke="#222" stroke-width="0.6"/>
<line x1="371.65" y1="399.50" x2="371.65" y2="401.90" stroke="#222" stroke-width="0.6"/>
<line x1="381.85" y1="399.50" x2="381.85" y2="401.90" stroke="#222" stroke-width="0.6"/>
<line x1="391.85" y1="399.50" x2="391.85" y2="401.90" stroke="#222" stroke-width="0.6"/>
<line x1="408.05" y1="399.50" x2="408.05" y2="401.90" stroke="#222" stroke-width="0.6"/>
<line x1="418.35" y1="399.50" x2="418.35" y2="401.90" stroke="#222" stroke-width="0.6"/>
<line x1="434.25" y1="399.50" x2="434.25" y2="401.90" stroke="#222" stroke-width="0.6"/>
<line x1="444.35" y1="399.50" x2="444.35" y2="401.90" stroke="#222" stroke-width="0.6"/>
<line x1="454.65" y1="399.50" x2="454.65" y2="401.90" stroke="#222" stroke-width="0.6"/>
<line x1="470.75" y1="399.50" x2="470.75" y2="401.90" stroke="#222" stroke-width="0.6"/>
<line x1="480.95" y1="399.50" x2="480.95" y2="401.90" stroke="#222" stroke-width="0.6"/>
<line x1="496.85" y1="399.50" x2="496.85" y2="401.90" stroke="#222" stroke-width="0.6"/>
<line x1="507.25" y1="399.50" x2="507.25" y2="401.90" stroke="#222" stroke-width="0.6"/>
<text x="364.65" y="408.3" font-size="6.1" text-anchor="end" fill="#222" stroke="#222" stroke-width="0.1" transform="rotate(-45 364.65 408.3)">1</text>
<text x="374.84999999999997" y="408.3" font-size="6.1" text-anchor="end" fill="#222" stroke="#222" stroke-width="0.1" transform="rotate(-45 374.84999999999997 408.3)">0.5</text>
<text x="385.04999999999995" y="408.3" font-size="6.1" text-anchor="end" fill="#222" stroke="#222" stroke-width="0.1" transform="rotate(-45 385.04999999999995 408.3)">0.25</text>
<text x="395.04999999999995" y="408.3" font-size="6.1" text-anchor="end" fill="#222" stroke="#222" stroke-width="0.1" transform="rotate(-45 395.04999999999995 408.3)">0.125</text>
<text x="411.25" y="408.3" font-size="6.1" text-anchor="end" fill="#222" stroke="#222" stroke-width="0.1" transform="rotate(-45 411.25 408.3)">10</text>
<text x="421.54999999999995" y="408.3" font-size="6.1" text-anchor="end" fill="#222" stroke="#222" stroke-width="0.1" transform="rotate(-45 421.54999999999995 408.3)">1</text>
<text x="437.45" y="408.3" font-size="6.1" text-anchor="end" fill="#222" stroke="#222" stroke-width="0.1" transform="rotate(-45 437.45 408.3)">100</text>
<text x="447.54999999999995" y="408.3" font-size="6.1" text-anchor="end" fill="#222" stroke="#222" stroke-width="0.1" transform="rotate(-45 447.54999999999995 408.3)">10</text>
<text x="457.84999999999997" y="408.3" font-size="6.1" text-anchor="end" fill="#222" stroke="#222" stroke-width="0.1" transform="rotate(-45 457.84999999999997 408.3)">1</text>
<text x="473.95" y="408.3" font-size="6.1" text-anchor="end" fill="#222" stroke="#222" stroke-width="0.1" transform="rotate(-45 473.95 408.3)">10</text>
<text x="484.15" y="408.3" font-size="6.1" text-anchor="end" fill="#222" stroke="#222" stroke-width="0.1" transform="rotate(-45 484.15 408.3)">2.5</text>
<text x="500.04999999999995" y="408.3" font-size="6.1" text-anchor="end" fill="#222" stroke="#222" stroke-width="0.1" transform="rotate(-45 500.04999999999995 408.3)">100</text>
<text x="510.45" y="408.3" font-size="6.1" text-anchor="end" fill="#222" stroke="#222" stroke-width="0.1" transform="rotate(-45 510.45 408.3)">10</text>
<path d="M359.48,333.15 L359.48,328.40 Q359.48,327.20 360.68,327.20 L362.23,327.20 Q363.43,327.20 363.43,328.40 L363.43,339.46" stroke="#9a9a9a" stroke-width="0.9" fill="none"/>
<circle cx="360.30" cy="324.20" r="0.8" fill="#333"/>
<circle cx="362.60" cy="324.20" r="0.8" fill="#333"/>
<path d="M369.68,342.97 L369.68,328.40 Q369.68,327.20 370.88,327.20 L372.43,327.20 Q373.62,327.20 373.62,328.40 L373.62,357.70" stroke="#9a9a9a" stroke-width="0.9" fill="none"/>
<circle cx="368.20" cy="324.20" r="0.8" fill="#333"/>
<circle cx="370.50" cy="324.20" r="0.8" fill="#333"/>
<circle cx="372.80" cy="324.20" r="0.8" fill="#333"/>
<circle cx="375.10" cy="324.20" r="0.8" fill="#333"/>
<path d="M389.88,389.28 L389.88,328.40 Q389.88,327.20 391.07,327.20 L392.62,327.20 Q393.82,327.20 393.82,328.40 L393.82,397.00" stroke="#9a9a9a" stroke-width="0.9" fill="none"/>
<circle cx="388.40" cy="324.20" r="0.8" fill="#333"/>
<circle cx="390.70" cy="324.20" r="0.8" fill="#333"/>
<circle cx="393.00" cy="324.20" r="0.8" fill="#333"/>
<circle cx="395.30" cy="324.20" r="0.8" fill="#333"/>
<path d="M406.08,348.58 L406.08,328.40 Q406.08,327.20 407.28,327.20 L408.83,327.20 Q410.03,327.20 410.03,328.40 L410.03,378.75" stroke="#9a9a9a" stroke-width="0.9" fill="none"/>
<circle cx="404.60" cy="324.20" r="0.8" fill="#333"/>
<circle cx="406.90" cy="324.20" r="0.8" fill="#333"/>
<circle cx="409.20" cy="324.20" r="0.8" fill="#333"/>
<circle cx="411.50" cy="324.20" r="0.8" fill="#333"/>
<path d="M416.38,390.68 L416.38,328.40 Q416.38,327.20 417.57,327.20 L419.12,327.20 Q420.32,327.20 420.32,328.40 L420.32,397.00" stroke="#9a9a9a" stroke-width="0.9" fill="none"/>
<circle cx="414.90" cy="324.20" r="0.8" fill="#333"/>
<circle cx="417.20" cy="324.20" r="0.8" fill="#333"/>
<circle cx="419.50" cy="324.20" r="0.8" fill="#333"/>
<circle cx="421.80" cy="324.20" r="0.8" fill="#333"/>
<path d="M432.28,343.67 L432.28,328.40 Q432.28,327.20 433.48,327.20 L435.03,327.20 Q436.23,327.20 436.23,328.40 L436.23,352.79" stroke="#9a9a9a" stroke-width="0.9" fill="none"/>
<circle cx="434.25" cy="324.20" r="0.8" fill="#333"/>
<path d="M442.38,359.11 L442.38,328.40 Q442.38,327.20 443.57,327.20 L445.12,327.20 Q446.32,327.20 446.32,328.40 L446.32,382.26" stroke="#9a9a9a" stroke-width="0.9" fill="none"/>
<circle cx="440.90" cy="324.20" r="0.8" fill="#333"/>
<circle cx="443.20" cy="324.20" r="0.8" fill="#333"/>
<circle cx="445.50" cy="324.20" r="0.8" fill="#333"/>
<circle cx="447.80" cy="324.20" r="0.8" fill="#333"/>
<path d="M452.68,373.14 L452.68,328.40 Q452.68,327.20 453.88,327.20 L455.43,327.20 Q456.62,327.20 456.62,328.40 L456.62,397.00" stroke="#9a9a9a" stroke-width="0.9" fill="none"/>
<circle cx="451.20" cy="324.20" r="0.8" fill="#333"/>
<circle cx="453.50" cy="324.20" r="0.8" fill="#333"/>
<circle cx="455.80" cy="324.20" r="0.8" fill="#333"/>
<circle cx="458.10" cy="324.20" r="0.8" fill="#333"/>
<path d="M494.88,363.32 L494.88,328.40 Q494.88,327.20 496.07,327.20 L497.62,327.20 Q498.82,327.20 498.82,328.40 L498.82,355.60" stroke="#9a9a9a" stroke-width="0.9" fill="none"/>
<circle cx="495.70" cy="324.20" r="0.8" fill="#333"/>
<circle cx="498.00" cy="324.20" r="0.8" fill="#333"/>
<rect x="361.60" y="308.50" width="6.00" height="2.30" fill="#6c3b14"/>
<rect x="361.60" y="315.70" width="6.00" height="2.30" fill="#b38b5e"/>
<text x="369.6" y="311.5" font-size="5.9" text-anchor="start" fill="#222" stroke="#222" stroke-width="0.1">Parental</text>
<text x="369.6" y="318.6" font-size="5.9" text-anchor="start" fill="#222" stroke="#222" stroke-width="0.1">27B</text>
<text x="346.3" y="428.5" font-size="5.6" text-anchor="start" fill="#222" stroke="#222" stroke-width="0.1">(μM)</text>
<text x="376.8" y="428.5" font-size="5.8" text-anchor="middle" fill="#222" stroke="#222" stroke-width="0.1">BIM</text>
<text x="412.8" y="428.5" font-size="5.8" text-anchor="middle" fill="#222" stroke="#222" stroke-width="0.1">PUMA</text>
<text x="445.5" y="428.5" font-size="5.8" text-anchor="middle" fill="#222" stroke="#222" stroke-width="0.1">BAD</text>
<text x="475.8" y="428.5" font-size="5.8" text-anchor="middle" fill="#222" stroke="#222" stroke-width="0.1">MS1</text>
<text x="502.6" y="428.5" font-size="5.8" text-anchor="middle" fill="#222" stroke="#222" stroke-width="0.1">HRK</text>
</svg>
</body></html>
